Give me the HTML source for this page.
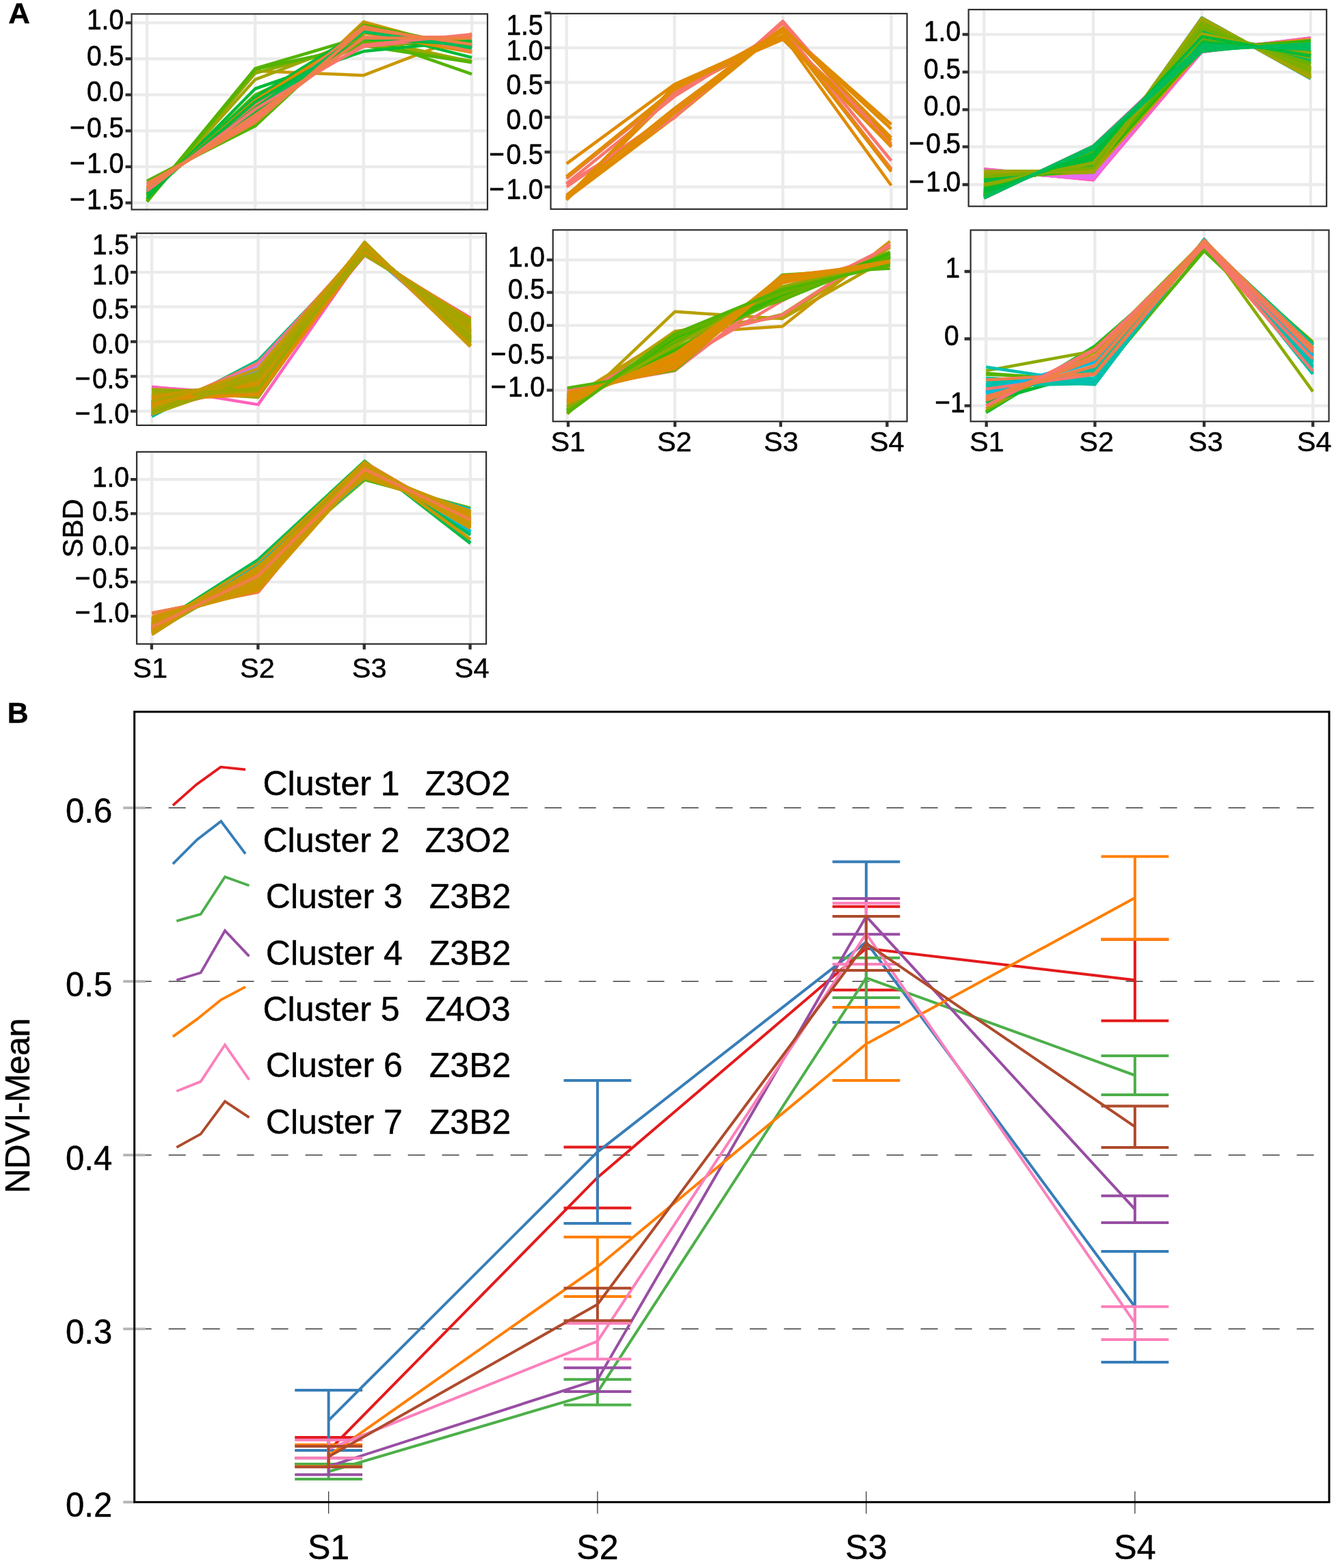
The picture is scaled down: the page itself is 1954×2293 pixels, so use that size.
<!DOCTYPE html>
<html lang="en"><head><meta charset="utf-8"><title>Figure: SBD clusters and NDVI-Mean</title>
<style>
html,body{margin:0;padding:0;background:#fff;}
body{width:1954px;height:2293px;overflow:hidden;}
svg{display:block;font-family:"Liberation Sans", Arial, Helvetica, sans-serif;fill:#000;}
text{stroke:#000;stroke-width:0.45px;stroke-linejoin:round;}
text.ta{stroke-width:0.65px;}
</style></head><body>
<svg width="1954" height="2293" viewBox="0 0 1954 2293">
<rect width="1954" height="2293" fill="#fff"/>
<g id="pa1">
<clipPath id="cp1"><rect x="192.5" y="20.4" width="520.5" height="286.1"/></clipPath>
<g clip-path="url(#cp1)">
<path d="M192.5 33.4H713M192.5 86H713M192.5 138.6H713M192.5 191.3H713M192.5 243.9H713M192.5 296.6H713M215 20.4V306.5M373.2 20.4V306.5M531.7 20.4V306.5M690.1 20.4V306.5" stroke="#ebebeb" stroke-width="4.3" fill="none"/>
<polyline points="215,291.13 373.2,103.85 531.7,110.17 690.1,49.25" stroke="#C99800" stroke-width="4.5" fill="none" stroke-linejoin="round"/>
<polyline points="215,265.37 373.2,181.58 531.7,32.04 690.1,75.42" stroke="#C99800" stroke-width="4.5" fill="none" stroke-linejoin="round"/>
<polyline points="215,292.12 373.2,116.28 531.7,55.84 690.1,90.16" stroke="#A3A500" stroke-width="4.5" fill="none" stroke-linejoin="round"/>
<polyline points="215,273.78 373.2,170.19 531.7,48.7 690.1,61.73" stroke="#A3A500" stroke-width="4.5" fill="none" stroke-linejoin="round"/>
<polyline points="215,281.5 373.2,154.39 531.7,58.88 690.1,59.62" stroke="#A3A500" stroke-width="4.5" fill="none" stroke-linejoin="round"/>
<polyline points="215,294.31 373.2,107.01 531.7,63.97 690.1,89.11" stroke="#8CAB00" stroke-width="4.5" fill="none" stroke-linejoin="round"/>
<polyline points="215,292.32 373.2,100.27 531.7,53.43 690.1,108.38" stroke="#53B400" stroke-width="4.5" fill="none" stroke-linejoin="round"/>
<polyline points="215,295.06 373.2,101.22 531.7,66.9 690.1,91.22" stroke="#53B400" stroke-width="4.5" fill="none" stroke-linejoin="round"/>
<polyline points="215,287.41 373.2,138.92 531.7,63.19 690.1,64.89" stroke="#53B400" stroke-width="4.5" fill="none" stroke-linejoin="round"/>
<polyline points="215,264.65 373.2,184.3 531.7,36.34 690.1,69.1" stroke="#53B400" stroke-width="4.5" fill="none" stroke-linejoin="round"/>
<polyline points="215,285.68 373.2,143.87 531.7,62.07 690.1,62.78" stroke="#53B400" stroke-width="4.5" fill="none" stroke-linejoin="round"/>
<polyline points="215,289.96 373.2,129.75 531.7,75.06 690.1,59.62" stroke="#00BA38" stroke-width="4.5" fill="none" stroke-linejoin="round"/>
<polyline points="215,284.39 373.2,142.29 531.7,43.56 690.1,84.16" stroke="#00BA38" stroke-width="4.5" fill="none" stroke-linejoin="round"/>
<polyline points="215,282.45 373.2,151.45 531.7,68.25 690.1,52.25" stroke="#F8766D" stroke-width="4.5" fill="none" stroke-linejoin="round"/>
<polyline points="215,269.5 373.2,176.51 531.7,39.29 690.1,69.1" stroke="#EF7F49" stroke-width="4.5" fill="none" stroke-linejoin="round"/>
<polyline points="215,279.12 373.2,158.4 531.7,46.73 690.1,70.15" stroke="#00BA38" stroke-width="4.5" fill="none" stroke-linejoin="round"/>
<polyline points="215,283.59 373.2,146.92 531.7,47.42 690.1,76.47" stroke="#E08B00" stroke-width="4.5" fill="none" stroke-linejoin="round"/>
<polyline points="215,274.97 373.2,165.24 531.7,38.77 690.1,75.42" stroke="#EF7F49" stroke-width="4.5" fill="none" stroke-linejoin="round"/>
<polyline points="215,275.63 373.2,165.98 531.7,45.8 690.1,67" stroke="#00BA38" stroke-width="4.5" fill="none" stroke-linejoin="round"/>
<polyline points="215,272.51 373.2,172.93 531.7,54.6 690.1,54.36" stroke="#F8766D" stroke-width="4.5" fill="none" stroke-linejoin="round"/>
<polyline points="215,283.6 373.2,149.13 531.7,56.78 690.1,64.89" stroke="#00BA38" stroke-width="4.5" fill="none" stroke-linejoin="round"/>
<polyline points="215,278.1 373.2,160.71 531.7,46.49 690.1,69.1" stroke="#00BC59" stroke-width="4.5" fill="none" stroke-linejoin="round"/>
<polyline points="215,268.47 373.2,179.04 531.7,42.01 690.1,64.89" stroke="#EF7F49" stroke-width="4.5" fill="none" stroke-linejoin="round"/>
<polyline points="215,278.89 373.2,159.66 531.7,65.7 690.1,50.15" stroke="#F8766D" stroke-width="4.5" fill="none" stroke-linejoin="round"/>
<polyline points="215,275.07 373.2,168.08 531.7,55.83 690.1,55.41" stroke="#EF7F49" stroke-width="4.5" fill="none" stroke-linejoin="round"/>
</g>
<rect x="192.5" y="20.4" width="520.5" height="286.1" fill="none" stroke="#2e2e2e" stroke-width="2.2"/>
<path d="M183.5 33.4H192.5M183.5 86H192.5M183.5 138.6H192.5M183.5 191.3H192.5M183.5 243.9H192.5M183.5 296.6H192.5" stroke="#2e2e2e" stroke-width="4.3" fill="none"/>
<text class="ta" transform="translate(181,42.5) scale(0.912,1)" text-anchor="end" font-size="42.6">1.0</text>
<text class="ta" transform="translate(181,95.8) scale(0.912,1)" text-anchor="end" font-size="42.6">0.5</text>
<text class="ta" transform="translate(181,147.9) scale(0.912,1)" text-anchor="end" font-size="42.6">0.0</text>
<text class="ta" transform="translate(181,200.6) scale(0.912,1)" text-anchor="end" font-size="42.6">−<tspan dx="2.6">0.5</tspan></text>
<text class="ta" transform="translate(181,253.2) scale(0.912,1)" text-anchor="end" font-size="42.6">−<tspan dx="2.6">1.0</tspan></text>
<text class="ta" transform="translate(181,305.7) scale(0.912,1)" text-anchor="end" font-size="42.6">−<tspan dx="2.6">1.5</tspan></text>
</g>
<g id="pa2">
<clipPath id="cp2"><rect x="805.5" y="19.9" width="521.1" height="285.9"/></clipPath>
<g clip-path="url(#cp2)">
<path d="M805.5 69.8H1326.6M805.5 120.5H1326.6M805.5 171.5H1326.6M805.5 222.4H1326.6M805.5 273.4H1326.6M828.6 19.9V305.8M986.5 19.9V305.8M1145 19.9V305.8M1303.5 19.9V305.8" stroke="#ebebeb" stroke-width="4.3" fill="none"/>
<polyline points="828.6,239.37 986.5,123.4 1145,51.99 1303.5,271.24" stroke="#E08B00" stroke-width="4.5" fill="none" stroke-linejoin="round"/>
<polyline points="828.6,292.25 986.5,125.64 1145,57.69 1303.5,210.41" stroke="#E08B00" stroke-width="4.5" fill="none" stroke-linejoin="round"/>
<polyline points="828.6,292.25 986.5,135.84 1145,52.54 1303.5,205.37" stroke="#E08B00" stroke-width="4.5" fill="none" stroke-linejoin="round"/>
<polyline points="828.6,290.72 986.5,171.5 1145,41.78 1303.5,181.99" stroke="#E08B00" stroke-width="4.5" fill="none" stroke-linejoin="round"/>
<polyline points="828.6,269.53 986.5,172.01 1145,30.89 1303.5,213.57" stroke="#F8766D" stroke-width="4.5" fill="none" stroke-linejoin="round"/>
<polyline points="828.6,258.22 986.5,135.94 1145,43.31 1303.5,248.53" stroke="#F8766D" stroke-width="4.5" fill="none" stroke-linejoin="round"/>
<polyline points="828.6,268.31 986.5,140.93 1145,41.81 1303.5,234.95" stroke="#F8766D" stroke-width="4.5" fill="none" stroke-linejoin="round"/>
<polyline points="828.6,273.4 986.5,163.35 1145,34.33 1303.5,214.92" stroke="#F8766D" stroke-width="4.5" fill="none" stroke-linejoin="round"/>
<polyline points="828.6,261.17 986.5,132.78 1145,45.25 1303.5,246.8" stroke="#EF7F49" stroke-width="4.5" fill="none" stroke-linejoin="round"/>
<polyline points="828.6,258.22 986.5,130.23 1145,46.56 1303.5,250.99" stroke="#E08B00" stroke-width="4.5" fill="none" stroke-linejoin="round"/>
<polyline points="828.6,285.42 986.5,158.46 1145,40.71 1303.5,201.41" stroke="#E08B00" stroke-width="4.5" fill="none" stroke-linejoin="round"/>
<polyline points="828.6,290.01 986.5,165.39 1145,41.98 1303.5,188.63" stroke="#E08B00" stroke-width="4.5" fill="none" stroke-linejoin="round"/>
<polyline points="828.6,288.69 986.5,128.7 1145,54.24 1303.5,214.37" stroke="#E08B00" stroke-width="4.5" fill="none" stroke-linejoin="round"/>
</g>
<rect x="805.5" y="19.9" width="521.1" height="285.9" fill="none" stroke="#2e2e2e" stroke-width="2.2"/>
<path d="M796.5 18.8H805.5M796.5 69.8H805.5M796.5 120.5H805.5M796.5 171.5H805.5M796.5 222.4H805.5M796.5 273.4H805.5" stroke="#2e2e2e" stroke-width="4.3" fill="none"/>
<text class="ta" transform="translate(794.4,50.5) scale(0.912,1)" text-anchor="end" font-size="42.6">1.5</text>
<text class="ta" transform="translate(794.4,87.8) scale(0.912,1)" text-anchor="end" font-size="42.6">1.0</text>
<text class="ta" transform="translate(794.4,137.7) scale(0.912,1)" text-anchor="end" font-size="42.6">0.5</text>
<text class="ta" transform="translate(794.4,189.1) scale(0.912,1)" text-anchor="end" font-size="42.6">0.0</text>
<text class="ta" transform="translate(794.4,239.6) scale(0.912,1)" text-anchor="end" font-size="42.6">−<tspan dx="2.6">0.5</tspan></text>
<text class="ta" transform="translate(794.4,290.5) scale(0.912,1)" text-anchor="end" font-size="42.6">−<tspan dx="2.6">1.0</tspan></text>
</g>
<g id="pa3">
<clipPath id="cp3"><rect x="1416.6" y="14" width="523.6" height="287.7"/></clipPath>
<g clip-path="url(#cp3)">
<path d="M1416.6 50.3H1940.2M1416.6 105.3H1940.2M1416.6 160.4H1940.2M1416.6 214.7H1940.2M1416.6 270H1940.2M1439.3 14V301.7M1599 14V301.7M1757.9 14V301.7M1916.9 14V301.7" stroke="#ebebeb" stroke-width="4.3" fill="none"/>
<polyline points="1439.3,248.04 1599,262.33 1757.9,75.51 1916.9,55.72" stroke="#FF62BC" stroke-width="4.8" fill="none" stroke-linejoin="round"/>
<polyline points="1439.3,248.79 1599,261.98 1757.9,59.92 1916.9,70.91" stroke="#FF62BC" stroke-width="4.8" fill="none" stroke-linejoin="round"/>
<polyline points="1439.3,247.58 1599,261.87 1757.9,49.59 1916.9,82.56" stroke="#FF62BC" stroke-width="4.8" fill="none" stroke-linejoin="round"/>
<polyline points="1439.3,249.92 1599,260.91 1757.9,70.88 1916.9,59.89" stroke="#FF62BC" stroke-width="4.8" fill="none" stroke-linejoin="round"/>
<polyline points="1439.3,260.73 1599,249.74 1757.9,75.45 1916.9,55.67" stroke="#FF62BC" stroke-width="4.8" fill="none" stroke-linejoin="round"/>
<polyline points="1439.3,271.11 1599,238.14 1757.9,75.51 1916.9,56.83" stroke="#FF62BC" stroke-width="4.8" fill="none" stroke-linejoin="round"/>
<polyline points="1439.3,250.81 1599,259.6 1757.9,54.6 1916.9,76.58" stroke="#FF62BC" stroke-width="4.8" fill="none" stroke-linejoin="round"/>
<polyline points="1439.3,249.43 1599,261.52 1757.9,66.42 1916.9,64.22" stroke="#FF62BC" stroke-width="4.8" fill="none" stroke-linejoin="round"/>
<polyline points="1439.3,255.58 1599,255.58 1757.9,65.22 1916.9,65.22" stroke="#FF62BC" stroke-width="4.8" fill="none" stroke-linejoin="round"/>
<polyline points="1439.3,257.99 1599,252.49 1757.9,54.57 1916.9,76.55" stroke="#FF62BC" stroke-width="4.8" fill="none" stroke-linejoin="round"/>
<polyline points="1439.3,253.5 1599,255.7 1757.9,46.97 1916.9,85.44" stroke="#FF62BC" stroke-width="4.8" fill="none" stroke-linejoin="round"/>
<polyline points="1439.3,259.84 1599,251.05 1757.9,70.85 1916.9,59.86" stroke="#FF62BC" stroke-width="4.8" fill="none" stroke-linejoin="round"/>
<polyline points="1439.3,247.41 1599,262.8 1757.9,54.71 1916.9,76.69" stroke="#FF62BC" stroke-width="4.8" fill="none" stroke-linejoin="round"/>
<polyline points="1439.3,247.73 1599,263.11 1757.9,65.38 1916.9,65.38" stroke="#FF62BC" stroke-width="4.8" fill="none" stroke-linejoin="round"/>
<polyline points="1439.3,266.17 1599,244.19 1757.9,71.12 1916.9,60.13" stroke="#FF62BC" stroke-width="4.8" fill="none" stroke-linejoin="round"/>
<polyline points="1439.3,289.55 1599,213.72 1757.9,63.67 1916.9,74.66" stroke="#FF62BC" stroke-width="4.8" fill="none" stroke-linejoin="round"/>
<polyline points="1439.3,250.36 1599,250.36 1757.9,26.48 1916.9,114.4" stroke="#FF62BC" stroke-width="4.8" fill="none" stroke-linejoin="round"/>
<polyline points="1439.3,274.98 1599,231.02 1757.9,45.82 1916.9,89.78" stroke="#FF62BC" stroke-width="4.8" fill="none" stroke-linejoin="round"/>
<polyline points="1439.3,282.86 1599,222.41 1757.9,54.43 1916.9,81.9" stroke="#FF62BC" stroke-width="4.8" fill="none" stroke-linejoin="round"/>
<polyline points="1439.3,263.34 1599,241.36 1757.9,35.48 1916.9,101.42" stroke="#FF62BC" stroke-width="4.8" fill="none" stroke-linejoin="round"/>
<polyline points="1439.3,250.39 1599,260.28 1757.9,57.22 1916.9,73.71" stroke="#E76BF3" stroke-width="4.5" fill="none" stroke-linejoin="round"/>
<polyline points="1439.3,251.53 1599,258.13 1757.9,49.48 1916.9,82.45" stroke="#E76BF3" stroke-width="4.5" fill="none" stroke-linejoin="round"/>
<polyline points="1439.3,255.5 1599,255.5 1757.9,59.81 1916.9,70.8" stroke="#E76BF3" stroke-width="4.5" fill="none" stroke-linejoin="round"/>
<polyline points="1439.3,251.69 1599,259.38 1757.9,65.26 1916.9,65.26" stroke="#E76BF3" stroke-width="4.5" fill="none" stroke-linejoin="round"/>
<polyline points="1439.3,253.35 1599,257.74 1757.9,68 1916.9,62.51" stroke="#E76BF3" stroke-width="4.5" fill="none" stroke-linejoin="round"/>
<polyline points="1439.3,249.98 1599,260.97 1757.9,62.58 1916.9,68.07" stroke="#E76BF3" stroke-width="4.5" fill="none" stroke-linejoin="round"/>
<polyline points="1439.3,281.66 1599,224.51 1757.9,56.73 1916.9,78.71" stroke="#F8766D" stroke-width="4.5" fill="none" stroke-linejoin="round"/>
<polyline points="1439.3,278.9 1599,227.25 1757.9,51.24 1916.9,84.21" stroke="#E76BF3" stroke-width="4.5" fill="none" stroke-linejoin="round"/>
<polyline points="1439.3,260.91 1599,249.92 1757.9,59.89 1916.9,70.88" stroke="#A58AFF" stroke-width="4.5" fill="none" stroke-linejoin="round"/>
<polyline points="1439.3,250.25 1599,250.25 1757.9,26.15 1916.9,114.95" stroke="#00B0F6" stroke-width="4.5" fill="none" stroke-linejoin="round"/>
<polyline points="1439.3,251.92 1599,248.62 1757.9,26.24 1916.9,114.82" stroke="#00B0F6" stroke-width="4.5" fill="none" stroke-linejoin="round"/>
<polyline points="1439.3,253.9 1599,257.2 1757.9,62.5 1916.9,68" stroke="#E76BF3" stroke-width="4.5" fill="none" stroke-linejoin="round"/>
<polyline points="1439.3,260.77 1599,250.23 1757.9,66.77 1916.9,63.84" stroke="#7CAE00" stroke-width="4.5" fill="none" stroke-linejoin="round"/>
<polyline points="1439.3,260.56 1599,249.32 1757.9,51.38 1916.9,80.34" stroke="#97A900" stroke-width="4.5" fill="none" stroke-linejoin="round"/>
<polyline points="1439.3,259.82 1599,249.95 1757.9,50.49 1916.9,81.34" stroke="#C99800" stroke-width="4.5" fill="none" stroke-linejoin="round"/>
<polyline points="1439.3,260.46 1599,249.51 1757.9,51.86 1916.9,79.77" stroke="#7CAE00" stroke-width="4.5" fill="none" stroke-linejoin="round"/>
<polyline points="1439.3,259.33 1599,250.62 1757.9,51.32 1916.9,80.34" stroke="#E08B00" stroke-width="4.5" fill="none" stroke-linejoin="round"/>
<polyline points="1439.3,259.31 1599,251.45 1757.9,73.09 1916.9,57.75" stroke="#C99800" stroke-width="4.5" fill="none" stroke-linejoin="round"/>
<polyline points="1439.3,258.01 1599,248.14 1757.9,37.48 1916.9,97.97" stroke="#A3A500" stroke-width="4.5" fill="none" stroke-linejoin="round"/>
<polyline points="1439.3,255.22 1599,252.03 1757.9,40.1 1916.9,94.26" stroke="#8CAB00" stroke-width="4.5" fill="none" stroke-linejoin="round"/>
<polyline points="1439.3,260.56 1599,249.78 1757.9,54.42 1916.9,76.84" stroke="#8CAB00" stroke-width="4.5" fill="none" stroke-linejoin="round"/>
<polyline points="1439.3,261.77 1599,248.97 1757.9,59.43 1916.9,71.42" stroke="#7CAE00" stroke-width="4.5" fill="none" stroke-linejoin="round"/>
<polyline points="1439.3,261 1599,249.36 1757.9,54.83 1916.9,76.41" stroke="#E08B00" stroke-width="4.5" fill="none" stroke-linejoin="round"/>
<polyline points="1439.3,260.76 1599,248.86 1757.9,50.02 1916.9,81.96" stroke="#E08B00" stroke-width="4.5" fill="none" stroke-linejoin="round"/>
<polyline points="1439.3,272.69 1599,236.74 1757.9,67.54 1916.9,64.62" stroke="#2BB700" stroke-width="4.5" fill="none" stroke-linejoin="round"/>
<polyline points="1439.3,273.7 1599,234.72 1757.9,54.91 1916.9,78.27" stroke="#00BA38" stroke-width="4.5" fill="none" stroke-linejoin="round"/>
<polyline points="1439.3,264.23 1599,246.41 1757.9,69.78 1916.9,61.18" stroke="#00BA38" stroke-width="4.5" fill="none" stroke-linejoin="round"/>
<polyline points="1439.3,283.33 1599,222.86 1757.9,63.28 1916.9,72.14" stroke="#00BB45" stroke-width="4.5" fill="none" stroke-linejoin="round"/>
<polyline points="1439.3,265.04 1599,245.58 1757.9,68.16 1916.9,62.83" stroke="#00BC59" stroke-width="4.5" fill="none" stroke-linejoin="round"/>
<polyline points="1439.3,287.5 1599,216.85 1757.9,73.62 1916.9,63.63" stroke="#00BB45" stroke-width="4.5" fill="none" stroke-linejoin="round"/>
<polyline points="1439.3,270.87 1599,238.66 1757.9,59.11 1916.9,72.96" stroke="#00BD5C" stroke-width="4.5" fill="none" stroke-linejoin="round"/>
<polyline points="1439.3,264.59 1599,240.71 1757.9,37.26 1916.9,99.04" stroke="#97A900" stroke-width="4.5" fill="none" stroke-linejoin="round"/>
<polyline points="1439.3,265.82 1599,244.71 1757.9,62.86 1916.9,68.21" stroke="#2BB700" stroke-width="4.5" fill="none" stroke-linejoin="round"/>
<polyline points="1439.3,274.74 1599,234.16 1757.9,70.05 1916.9,62.64" stroke="#00BC59" stroke-width="4.5" fill="none" stroke-linejoin="round"/>
<polyline points="1439.3,262.94 1599,242.04 1757.9,35.97 1916.9,100.65" stroke="#7CAE00" stroke-width="4.5" fill="none" stroke-linejoin="round"/>
<polyline points="1439.3,268.59 1599,237.77 1757.9,41.88 1916.9,93.36" stroke="#53B400" stroke-width="4.5" fill="none" stroke-linejoin="round"/>
<polyline points="1439.3,253.75 1599,251.31 1757.9,34.52 1916.9,102.02" stroke="#A3A500" stroke-width="4.5" fill="none" stroke-linejoin="round"/>
<polyline points="1439.3,280.66 1599,226.41 1757.9,73.14 1916.9,61.4" stroke="#2BB700" stroke-width="4.5" fill="none" stroke-linejoin="round"/>
<polyline points="1439.3,281.28 1599,225.62 1757.9,62.2 1916.9,72.5" stroke="#00BB45" stroke-width="4.5" fill="none" stroke-linejoin="round"/>
<polyline points="1439.3,267.15 1599,242.53 1757.9,54.68 1916.9,77.23" stroke="#00BB45" stroke-width="4.5" fill="none" stroke-linejoin="round"/>
<polyline points="1439.3,283.9 1599,222.05 1757.9,63.38 1916.9,72.27" stroke="#00BD5C" stroke-width="4.5" fill="none" stroke-linejoin="round"/>
<polyline points="1439.3,261.79 1599,248.52 1757.9,54.87 1916.9,76.42" stroke="#53B400" stroke-width="4.5" fill="none" stroke-linejoin="round"/>
<polyline points="1439.3,260.86 1599,244.41 1757.9,35.99 1916.9,100.34" stroke="#97A900" stroke-width="4.5" fill="none" stroke-linejoin="round"/>
<polyline points="1439.3,281.3 1599,225.71 1757.9,64.83 1916.9,69.76" stroke="#2BB700" stroke-width="4.5" fill="none" stroke-linejoin="round"/>
<polyline points="1439.3,262.31 1599,248.03 1757.9,55.46 1916.9,75.8" stroke="#00BA38" stroke-width="4.5" fill="none" stroke-linejoin="round"/>
<polyline points="1439.3,267.9 1599,239.85 1757.9,45.81 1916.9,88.04" stroke="#00BC59" stroke-width="4.5" fill="none" stroke-linejoin="round"/>
<polyline points="1439.3,258.6 1599,247.05 1757.9,36.37 1916.9,99.58" stroke="#7CAE00" stroke-width="4.5" fill="none" stroke-linejoin="round"/>
<polyline points="1439.3,277.06 1599,231.16 1757.9,72.06 1916.9,61.33" stroke="#00BC59" stroke-width="4.5" fill="none" stroke-linejoin="round"/>
<polyline points="1439.3,284.38 1599,221.5 1757.9,68.73 1916.9,66.98" stroke="#00BD5C" stroke-width="4.5" fill="none" stroke-linejoin="round"/>
<polyline points="1439.3,279.68 1599,227.74 1757.9,61.82 1916.9,72.35" stroke="#00BC59" stroke-width="4.5" fill="none" stroke-linejoin="round"/>
<polyline points="1439.3,275.47 1599,232.98 1757.9,58.88 1916.9,74.26" stroke="#A3A500" stroke-width="4.5" fill="none" stroke-linejoin="round"/>
<polyline points="1439.3,278.1 1599,229.85 1757.9,71.5 1916.9,62.15" stroke="#53B400" stroke-width="4.5" fill="none" stroke-linejoin="round"/>
<polyline points="1439.3,272.03 1599,236.52 1757.9,53.21 1916.9,79.84" stroke="#6FB000" stroke-width="4.5" fill="none" stroke-linejoin="round"/>
<polyline points="1439.3,271.08 1599,237.34 1757.9,51.41 1916.9,81.76" stroke="#00BA38" stroke-width="4.5" fill="none" stroke-linejoin="round"/>
<polyline points="1439.3,261.22 1599,247.5 1757.9,46.13 1916.9,86.75" stroke="#00BB45" stroke-width="4.5" fill="none" stroke-linejoin="round"/>
<polyline points="1439.3,276.62 1599,230.8 1757.9,53.74 1916.9,80.44" stroke="#2BB700" stroke-width="4.5" fill="none" stroke-linejoin="round"/>
<polyline points="1439.3,286.91 1599,217.88 1757.9,69.4 1916.9,67.41" stroke="#2BB700" stroke-width="4.5" fill="none" stroke-linejoin="round"/>
<polyline points="1439.3,284.62 1599,220.73 1757.9,59.94 1916.9,76.31" stroke="#00BA38" stroke-width="4.5" fill="none" stroke-linejoin="round"/>
<polyline points="1439.3,265.83 1599,244.74 1757.9,65.9 1916.9,65.14" stroke="#00BC59" stroke-width="4.5" fill="none" stroke-linejoin="round"/>
<polyline points="1439.3,285.53 1599,219.58 1757.9,61.59 1916.9,74.9" stroke="#2BB700" stroke-width="4.5" fill="none" stroke-linejoin="round"/>
<polyline points="1439.3,277.6 1599,230.47 1757.9,71.87 1916.9,61.66" stroke="#2BB700" stroke-width="4.5" fill="none" stroke-linejoin="round"/>
<polyline points="1439.3,287.12 1599,217.55 1757.9,70.1 1916.9,66.83" stroke="#00BA38" stroke-width="4.5" fill="none" stroke-linejoin="round"/>
<polyline points="1439.3,280.61 1599,226.67 1757.9,65.94 1916.9,68.38" stroke="#00BD5C" stroke-width="4.5" fill="none" stroke-linejoin="round"/>
<polyline points="1439.3,271.35 1599,234.89 1757.9,43.36 1916.9,92.01" stroke="#00BB45" stroke-width="4.5" fill="none" stroke-linejoin="round"/>
<polyline points="1439.3,271.84 1599,235.87 1757.9,48.86 1916.9,85.04" stroke="#00BC59" stroke-width="4.5" fill="none" stroke-linejoin="round"/>
<polyline points="1439.3,271.66 1599,237.94 1757.9,69.02 1916.9,62.97" stroke="#00BC59" stroke-width="4.5" fill="none" stroke-linejoin="round"/>
<polyline points="1439.3,276.84 1599,231 1757.9,56.9 1916.9,76.86" stroke="#00BA38" stroke-width="4.5" fill="none" stroke-linejoin="round"/>
<polyline points="1439.3,263.2 1599,244.66 1757.9,43.73 1916.9,90.01" stroke="#00BD5C" stroke-width="4.5" fill="none" stroke-linejoin="round"/>
<polyline points="1439.3,272.48 1599,236.12 1757.9,54.17 1916.9,78.83" stroke="#6FB000" stroke-width="4.5" fill="none" stroke-linejoin="round"/>
<polyline points="1439.3,283.03 1599,223.05 1757.9,60.42 1916.9,75.11" stroke="#00BA38" stroke-width="4.5" fill="none" stroke-linejoin="round"/>
<polyline points="1439.3,278.33 1599,229.3 1757.9,59.02 1916.9,74.95" stroke="#00BC59" stroke-width="4.5" fill="none" stroke-linejoin="round"/>
<polyline points="1439.3,265.1 1599,245.36 1757.9,59.75 1916.9,71.39" stroke="#00BC59" stroke-width="4.5" fill="none" stroke-linejoin="round"/>
<polyline points="1439.3,285.67 1599,219.12 1757.9,59.25 1916.9,77.56" stroke="#00BC59" stroke-width="4.5" fill="none" stroke-linejoin="round"/>
<polyline points="1439.3,287.11 1599,217.54 1757.9,65.94 1916.9,71.01" stroke="#00BC59" stroke-width="4.5" fill="none" stroke-linejoin="round"/>
<polyline points="1439.3,263.45 1599,246.41 1757.9,52.75 1916.9,78.99" stroke="#00BB45" stroke-width="4.5" fill="none" stroke-linejoin="round"/>
<polyline points="1439.3,261.33 1599,247.12 1757.9,45.12 1916.9,88.03" stroke="#00BA38" stroke-width="4.5" fill="none" stroke-linejoin="round"/>
<polyline points="1439.3,270.32 1599,239.56 1757.9,63.53 1916.9,68.19" stroke="#00BC59" stroke-width="4.5" fill="none" stroke-linejoin="round"/>
<polyline points="1439.3,272.59 1599,234.87 1757.9,48.65 1916.9,85.48" stroke="#00BA38" stroke-width="4.5" fill="none" stroke-linejoin="round"/>
<polyline points="1439.3,272.1 1599,234.89 1757.9,46.4 1916.9,88.2" stroke="#00BC59" stroke-width="4.5" fill="none" stroke-linejoin="round"/>
<polyline points="1439.3,266.1 1599,244.28 1757.9,60.37 1916.9,70.85" stroke="#00BC59" stroke-width="4.5" fill="none" stroke-linejoin="round"/>
<polyline points="1439.3,281.52 1599,225.09 1757.9,75.18 1916.9,59.81" stroke="#00BC59" stroke-width="4.5" fill="none" stroke-linejoin="round"/>
<polyline points="1439.3,273.47 1599,234.78 1757.9,53.51 1916.9,79.83" stroke="#00BA38" stroke-width="4.5" fill="none" stroke-linejoin="round"/>
<polyline points="1439.3,271.15 1599,237.45 1757.9,52.45 1916.9,80.54" stroke="#97A900" stroke-width="4.5" fill="none" stroke-linejoin="round"/>
<polyline points="1439.3,285.33 1599,219.82 1757.9,60.99 1916.9,75.47" stroke="#00BB45" stroke-width="4.5" fill="none" stroke-linejoin="round"/>
<polyline points="1439.3,275.09 1599,233.74 1757.9,69.96 1916.9,62.82" stroke="#53B400" stroke-width="4.5" fill="none" stroke-linejoin="round"/>
<polyline points="1439.3,273.35 1599,234.53 1757.9,51.34 1916.9,82.38" stroke="#00BB45" stroke-width="4.5" fill="none" stroke-linejoin="round"/>
<polyline points="1439.3,282.68 1599,222.93 1757.9,55.88 1916.9,80.11" stroke="#2BB700" stroke-width="4.5" fill="none" stroke-linejoin="round"/>
<polyline points="1439.3,270.45 1599,238.03 1757.9,50.98 1916.9,82.14" stroke="#00BB45" stroke-width="4.5" fill="none" stroke-linejoin="round"/>
<polyline points="1439.3,266.83 1599,243.58 1757.9,67.96 1916.9,63.22" stroke="#8CAB00" stroke-width="4.5" fill="none" stroke-linejoin="round"/>
<polyline points="1439.3,273.43 1599,235.75 1757.9,70.44 1916.9,61.98" stroke="#00BA38" stroke-width="4.5" fill="none" stroke-linejoin="round"/>
<polyline points="1439.3,271.03 1599,238.71 1757.9,68.44 1916.9,63.42" stroke="#7CAE00" stroke-width="4.5" fill="none" stroke-linejoin="round"/>
<polyline points="1439.3,286.16 1599,218.85 1757.9,64.1 1916.9,72.5" stroke="#00BA38" stroke-width="4.5" fill="none" stroke-linejoin="round"/>
<polyline points="1439.3,264.88 1599,245.66 1757.9,70.51 1916.9,60.56" stroke="#2BB700" stroke-width="4.5" fill="none" stroke-linejoin="round"/>
<polyline points="1439.3,278.43 1599,229.49 1757.9,63.5 1916.9,70.18" stroke="#2BB700" stroke-width="4.5" fill="none" stroke-linejoin="round"/>
<polyline points="1439.3,267.15 1599,239.63 1757.9,42.23 1916.9,92.6" stroke="#6FB000" stroke-width="4.5" fill="none" stroke-linejoin="round"/>
<polyline points="1439.3,266.96 1599,243.37 1757.9,61.4 1916.9,69.88" stroke="#6FB000" stroke-width="4.5" fill="none" stroke-linejoin="round"/>
<polyline points="1439.3,284.19 1599,221.64 1757.9,72.31 1916.9,63.45" stroke="#53B400" stroke-width="4.5" fill="none" stroke-linejoin="round"/>
<polyline points="1439.3,277.18 1599,231.05 1757.9,62.17 1916.9,71.2" stroke="#00BA38" stroke-width="4.5" fill="none" stroke-linejoin="round"/>
<polyline points="1439.3,265.34 1599,243.88 1757.9,50.35 1916.9,82.04" stroke="#00BB45" stroke-width="4.5" fill="none" stroke-linejoin="round"/>
<polyline points="1439.3,271.88 1599,237.71 1757.9,68.2 1916.9,63.81" stroke="#53B400" stroke-width="4.5" fill="none" stroke-linejoin="round"/>
<polyline points="1439.3,269.76 1599,238.52 1757.9,49.36 1916.9,83.96" stroke="#A3A500" stroke-width="4.5" fill="none" stroke-linejoin="round"/>
<polyline points="1439.3,270.44 1599,238.75 1757.9,55.28 1916.9,77.13" stroke="#8CAB00" stroke-width="4.5" fill="none" stroke-linejoin="round"/>
<polyline points="1439.3,251.45 1599,249.25 1757.9,26.49 1916.9,114.41" stroke="#8CAB00" stroke-width="4.5" fill="none" stroke-linejoin="round"/>
<polyline points="1439.3,253.22 1599,247.72 1757.9,26.92 1916.9,113.74" stroke="#A3A500" stroke-width="4.5" fill="none" stroke-linejoin="round"/>
<polyline points="1439.3,250.42 1599,250.42 1757.9,26.69 1916.9,114.06" stroke="#97A900" stroke-width="4.5" fill="none" stroke-linejoin="round"/>
<polyline points="1439.3,256.82 1599,248.03 1757.9,34.31 1916.9,102.44" stroke="#8CAB00" stroke-width="4.5" fill="none" stroke-linejoin="round"/>
<polyline points="1439.3,253.7 1599,250.4 1757.9,32.48 1916.9,105.02" stroke="#A3A500" stroke-width="4.5" fill="none" stroke-linejoin="round"/>
<polyline points="1439.3,257.25 1599,246.26 1757.9,31.68 1916.9,106.41" stroke="#7CAE00" stroke-width="4.5" fill="none" stroke-linejoin="round"/>
<polyline points="1439.3,251.61 1599,251.61 1757.9,30.73 1916.9,107.66" stroke="#8CAB00" stroke-width="4.5" fill="none" stroke-linejoin="round"/>
<polyline points="1439.3,254.64 1599,248.04 1757.9,29.89 1916.9,109.02" stroke="#A3A500" stroke-width="4.5" fill="none" stroke-linejoin="round"/>
<polyline points="1439.3,252.22 1599,250.03 1757.9,29.01 1916.9,110.34" stroke="#97A900" stroke-width="4.5" fill="none" stroke-linejoin="round"/>
<polyline points="1439.3,253.06 1599,248.67 1757.9,28.17 1916.9,111.7" stroke="#8CAB00" stroke-width="4.5" fill="none" stroke-linejoin="round"/>
<polyline points="1439.3,250.69 1599,250.69 1757.9,27.53 1916.9,112.7" stroke="#A3A500" stroke-width="4.5" fill="none" stroke-linejoin="round"/>
<polyline points="1439.3,258.75 1599,245.56 1757.9,33.48 1916.9,103.82" stroke="#7CAE00" stroke-width="4.5" fill="none" stroke-linejoin="round"/>
<polyline points="1439.3,289.17 1599,214.44 1757.9,65.7 1916.9,72.29" stroke="#00BC59" stroke-width="4.5" fill="none" stroke-linejoin="round"/>
<polyline points="1439.3,288.32 1599,215.79 1757.9,68.74 1916.9,68.74" stroke="#00BC59" stroke-width="4.5" fill="none" stroke-linejoin="round"/>
<polyline points="1439.3,286.49 1599,218.36 1757.9,72.77 1916.9,63.98" stroke="#00BC59" stroke-width="4.5" fill="none" stroke-linejoin="round"/>
<polyline points="1439.3,280.5 1599,225.55 1757.9,53.49 1916.9,82.06" stroke="#00BA38" stroke-width="4.5" fill="none" stroke-linejoin="round"/>
<polyline points="1439.3,289.63 1599,213.8 1757.9,67.98 1916.9,70.18" stroke="#00BC59" stroke-width="4.5" fill="none" stroke-linejoin="round"/>
</g>
<rect x="1416.6" y="14" width="523.6" height="287.7" fill="none" stroke="#2e2e2e" stroke-width="2.2"/>
<path d="M1407.6 50.3H1416.6M1407.6 105.3H1416.6M1407.6 160.4H1416.6M1407.6 214.7H1416.6M1407.6 270H1416.6" stroke="#2e2e2e" stroke-width="4.3" fill="none"/>
<text class="ta" transform="translate(1405,59.5) scale(0.912,1)" text-anchor="end" font-size="42.6">1.0</text>
<text class="ta" transform="translate(1405,115) scale(0.912,1)" text-anchor="end" font-size="42.6">0.5</text>
<text class="ta" transform="translate(1405,169.4) scale(0.912,1)" text-anchor="end" font-size="42.6">0.0</text>
<text class="ta" transform="translate(1405,223.7) scale(0.912,1)" text-anchor="end" font-size="42.6">−<tspan dx="2.6">0</tspan><tspan dx="1.4">.</tspan><tspan dx="-5.1">5</tspan></text>
<text class="ta" transform="translate(1405,280.4) scale(0.912,1)" text-anchor="end" font-size="42.6">−<tspan dx="2.6">1</tspan><tspan dx="1.4">.</tspan><tspan dx="-5.1">0</tspan></text>
</g>
<g id="pa4">
<clipPath id="cp4"><rect x="200" y="341.1" width="511.1" height="280.8"/></clipPath>
<g clip-path="url(#cp4)">
<path d="M200 346.7H711.1M200 398.1H711.1M200 448.7H711.1M200 499.6H711.1M200 550.4H711.1M200 601.3H711.1M222 341.1V621.9M377.6 341.1V621.9M533.3 341.1V621.9M688 341.1V621.9" stroke="#ebebeb" stroke-width="4.3" fill="none"/>
<polyline points="222,566.21 377.6,591.64 533.3,367.67 688,472.88" stroke="#FF62BC" stroke-width="4.5" fill="none" stroke-linejoin="round"/>
<polyline points="222,565.91 377.6,580.45 533.3,357.95 688,494.09" stroke="#FF62BC" stroke-width="4.6" fill="none" stroke-linejoin="round"/>
<polyline points="222,566.72 377.6,578.93 533.3,357.43 688,495.32" stroke="#FF62BC" stroke-width="4.6" fill="none" stroke-linejoin="round"/>
<polyline points="222,567.74 377.6,579.94 533.3,358.62 688,492.09" stroke="#FF62BC" stroke-width="4.6" fill="none" stroke-linejoin="round"/>
<polyline points="222,566.21 377.6,577.91 533.3,356.58 688,497.7" stroke="#FF62BC" stroke-width="4.6" fill="none" stroke-linejoin="round"/>
<polyline points="222,600.54 377.6,559.96 533.3,373.19 688,464.72" stroke="#FF62BC" stroke-width="4.6" fill="none" stroke-linejoin="round"/>
<polyline points="222,592.77 377.6,568.64 533.3,371.46 688,465.53" stroke="#FF62BC" stroke-width="4.6" fill="none" stroke-linejoin="round"/>
<polyline points="222,570.79 377.6,580.96 533.3,361.25 688,485.4" stroke="#8CAB00" stroke-width="4.5" fill="none" stroke-linejoin="round"/>
<polyline points="222,608.93 377.6,527.06 533.3,364.25 688,498.17" stroke="#00BF7D" stroke-width="4.5" fill="none" stroke-linejoin="round"/>
<polyline points="222,608.42 377.6,528.58 533.3,364.17 688,497.23" stroke="#00BF7D" stroke-width="4.5" fill="none" stroke-linejoin="round"/>
<polyline points="222,607.4 377.6,530.11 533.3,363.69 688,497.2" stroke="#00B0F6" stroke-width="4.5" fill="none" stroke-linejoin="round"/>
<polyline points="222,605.88 377.6,530.62 533.3,362.59 688,499.32" stroke="#F8766D" stroke-width="4.5" fill="none" stroke-linejoin="round"/>
<polyline points="222,604.35 377.6,532.65 533.3,361.89 688,499.5" stroke="#F8766D" stroke-width="4.5" fill="none" stroke-linejoin="round"/>
<polyline points="222,601.3 377.6,532.14 533.3,359.62 688,505.33" stroke="#F8766D" stroke-width="4.5" fill="none" stroke-linejoin="round"/>
<polyline points="222,605.37 377.6,534.18 533.3,363.1 688,495.75" stroke="#FF67A4" stroke-width="4.5" fill="none" stroke-linejoin="round"/>
<polyline points="222,601.3 377.6,536.21 533.3,360.51 688,500.37" stroke="#A58AFF" stroke-width="4.5" fill="none" stroke-linejoin="round"/>
<polyline points="222,599.27 377.6,537.74 533.3,359.47 688,501.92" stroke="#A58AFF" stroke-width="4.5" fill="none" stroke-linejoin="round"/>
<polyline points="222,596.22 377.6,539.26 533.3,357.86 688,505.07" stroke="#A58AFF" stroke-width="4.5" fill="none" stroke-linejoin="round"/>
<polyline points="222,598.25 377.6,540.28 533.3,359.45 688,500.42" stroke="#A58AFF" stroke-width="4.5" fill="none" stroke-linejoin="round"/>
<polyline points="222,594.18 377.6,541.3 533.3,357.1 688,505.82" stroke="#619CFF" stroke-width="4.5" fill="none" stroke-linejoin="round"/>
<polyline points="222,591.99 377.6,561.07 533.3,364.02 688,481.32" stroke="#A3A500" stroke-width="4.5" fill="none" stroke-linejoin="round"/>
<polyline points="222,576.68 377.6,579.38 533.3,364.52 688,477.82" stroke="#A3A500" stroke-width="4.5" fill="none" stroke-linejoin="round"/>
<polyline points="222,588.72 377.6,571.27 533.3,369.09 688,469.32" stroke="#C99800" stroke-width="4.5" fill="none" stroke-linejoin="round"/>
<polyline points="222,579.07 377.6,574.77 533.3,362.67 688,481.89" stroke="#A3A500" stroke-width="4.5" fill="none" stroke-linejoin="round"/>
<polyline points="222,597.56 377.6,559.23 533.3,368.56 688,473.05" stroke="#A3A500" stroke-width="4.5" fill="none" stroke-linejoin="round"/>
<polyline points="222,578.25 377.6,575.4 533.3,362.5 688,482.24" stroke="#B3A000" stroke-width="4.5" fill="none" stroke-linejoin="round"/>
<polyline points="222,597.09 377.6,550.85 533.3,362.64 688,487.82" stroke="#B3A000" stroke-width="4.5" fill="none" stroke-linejoin="round"/>
<polyline points="222,570.06 377.6,579.1 533.3,359.43 688,489.81" stroke="#97A900" stroke-width="4.5" fill="none" stroke-linejoin="round"/>
<polyline points="222,585.08 377.6,575.11 533.3,368.8 688,469.41" stroke="#B3A000" stroke-width="4.5" fill="none" stroke-linejoin="round"/>
<polyline points="222,577.03 377.6,567.94 533.3,356.93 688,496.5" stroke="#8CAB00" stroke-width="4.5" fill="none" stroke-linejoin="round"/>
<polyline points="222,587.12 377.6,553.75 533.3,356.65 688,500.87" stroke="#A3A500" stroke-width="4.5" fill="none" stroke-linejoin="round"/>
<polyline points="222,582.72 377.6,573.79 533.3,365.08 688,476.8" stroke="#A3A500" stroke-width="4.5" fill="none" stroke-linejoin="round"/>
<polyline points="222,587.66 377.6,567.25 533.3,364.41 688,479.08" stroke="#ABA300" stroke-width="4.5" fill="none" stroke-linejoin="round"/>
<polyline points="222,581.4 377.6,570.63 533.3,361.49 688,484.88" stroke="#C99800" stroke-width="4.5" fill="none" stroke-linejoin="round"/>
<polyline points="222,589.3 377.6,562.92 533.3,362.82 688,483.36" stroke="#ABA300" stroke-width="4.5" fill="none" stroke-linejoin="round"/>
<polyline points="222,596.21 377.6,553.18 533.3,363.08 688,485.93" stroke="#E08B00" stroke-width="4.5" fill="none" stroke-linejoin="round"/>
<polyline points="222,596.08 377.6,563.1 533.3,370.15 688,469.08" stroke="#A3A500" stroke-width="4.5" fill="none" stroke-linejoin="round"/>
<polyline points="222,580.15 377.6,562.37 533.3,356.07 688,499.82" stroke="#A3A500" stroke-width="4.5" fill="none" stroke-linejoin="round"/>
<polyline points="222,588.48 377.6,552.92 533.3,357.17 688,499.83" stroke="#B3A000" stroke-width="4.5" fill="none" stroke-linejoin="round"/>
<polyline points="222,594.51 377.6,557.53 533.3,364.08 688,482.27" stroke="#8CAB00" stroke-width="4.5" fill="none" stroke-linejoin="round"/>
<polyline points="222,584.28 377.6,571.38 533.3,364.51 688,478.22" stroke="#A3A500" stroke-width="4.5" fill="none" stroke-linejoin="round"/>
<polyline points="222,588.58 377.6,564.25 533.3,363.08 688,482.49" stroke="#E08B00" stroke-width="4.5" fill="none" stroke-linejoin="round"/>
<polyline points="222,592.92 377.6,550.51 533.3,359.19 688,495.79" stroke="#C99800" stroke-width="4.5" fill="none" stroke-linejoin="round"/>
<polyline points="222,589.54 377.6,562.91 533.3,363.03 688,482.92" stroke="#A3A500" stroke-width="4.5" fill="none" stroke-linejoin="round"/>
<polyline points="222,578.82 377.6,578 533.3,365.19 688,476.39" stroke="#A3A500" stroke-width="4.5" fill="none" stroke-linejoin="round"/>
<polyline points="222,591.8 377.6,559.94 533.3,363.12 688,483.54" stroke="#97A900" stroke-width="4.5" fill="none" stroke-linejoin="round"/>
<polyline points="222,591.18 377.6,562.58 533.3,364.31 688,480.33" stroke="#B3A000" stroke-width="4.5" fill="none" stroke-linejoin="round"/>
<polyline points="222,601.1 377.6,558.55 533.3,372.58 688,466.17" stroke="#C99800" stroke-width="4.5" fill="none" stroke-linejoin="round"/>
<polyline points="222,587.27 377.6,555.32 533.3,357.35 688,498.46" stroke="#A3A500" stroke-width="4.5" fill="none" stroke-linejoin="round"/>
<polyline points="222,596.8 377.6,547.34 533.3,360.8 688,493.47" stroke="#ABA300" stroke-width="4.5" fill="none" stroke-linejoin="round"/>
<polyline points="222,582.74 377.6,562.11 533.3,357.49 688,496.07" stroke="#A3A500" stroke-width="4.5" fill="none" stroke-linejoin="round"/>
<polyline points="222,571.94 377.6,576.02 533.3,358.55 688,491.89" stroke="#ABA300" stroke-width="4.5" fill="none" stroke-linejoin="round"/>
<polyline points="222,599.05 377.6,555.8 533.3,367.62 688,475.93" stroke="#B3A000" stroke-width="4.5" fill="none" stroke-linejoin="round"/>
<polyline points="222,597.03 377.6,563.03 533.3,371.34 688,467.01" stroke="#A3A500" stroke-width="4.5" fill="none" stroke-linejoin="round"/>
<polyline points="222,593.5 377.6,552.96 533.3,360.7 688,491.24" stroke="#A3A500" stroke-width="4.5" fill="none" stroke-linejoin="round"/>
<polyline points="222,591.91 377.6,561.39 533.3,364.18 688,480.91" stroke="#A3A500" stroke-width="4.5" fill="none" stroke-linejoin="round"/>
<polyline points="222,578.22 377.6,573.46 533.3,361.04 688,485.68" stroke="#8CAB00" stroke-width="4.5" fill="none" stroke-linejoin="round"/>
<polyline points="222,582.46 377.6,576.81 533.3,367.65 688,471.47" stroke="#A3A500" stroke-width="4.5" fill="none" stroke-linejoin="round"/>
<polyline points="222,596.12 377.6,550.3 533.3,361.54 688,490.44" stroke="#C99800" stroke-width="4.5" fill="none" stroke-linejoin="round"/>
<polyline points="222,570.96 377.6,576.82 533.3,358.47 688,492.15" stroke="#A3A500" stroke-width="4.5" fill="none" stroke-linejoin="round"/>
<polyline points="222,600.05 377.6,547.77 533.3,363.75 688,486.83" stroke="#8CAB00" stroke-width="4.5" fill="none" stroke-linejoin="round"/>
<polyline points="222,591.27 377.6,545.5 533.3,356.47 688,505.15" stroke="#A3A500" stroke-width="4.5" fill="none" stroke-linejoin="round"/>
<polyline points="222,589.67 377.6,548.88 533.3,356.52 688,503.33" stroke="#8CAB00" stroke-width="4.5" fill="none" stroke-linejoin="round"/>
<polyline points="222,575.23 377.6,571.71 533.3,357.93 688,493.52" stroke="#A3A500" stroke-width="4.5" fill="none" stroke-linejoin="round"/>
<polyline points="222,581.34 377.6,570.93 533.3,361.65 688,484.48" stroke="#A3A500" stroke-width="4.5" fill="none" stroke-linejoin="round"/>
<polyline points="222,579.84 377.6,578.37 533.3,366.51 688,473.69" stroke="#B3A000" stroke-width="4.5" fill="none" stroke-linejoin="round"/>
<polyline points="222,580.77 377.6,566.28 533.3,358.36 688,492.99" stroke="#B3A000" stroke-width="4.5" fill="none" stroke-linejoin="round"/>
<polyline points="222,589.56 377.6,570.83 533.3,369.65 688,468.36" stroke="#A3A500" stroke-width="4.5" fill="none" stroke-linejoin="round"/>
<polyline points="222,593.66 377.6,564.1 533.3,368.12 688,472.52" stroke="#C99800" stroke-width="4.5" fill="none" stroke-linejoin="round"/>
<polyline points="222,588.55 377.6,561.37 533.3,361.23 688,487.25" stroke="#A3A500" stroke-width="4.5" fill="none" stroke-linejoin="round"/>
<polyline points="222,597.32 377.6,550.79 533.3,362.81 688,487.48" stroke="#ABA300" stroke-width="4.5" fill="none" stroke-linejoin="round"/>
<polyline points="222,587.06 377.6,561.92 533.3,360.37 688,489.05" stroke="#A3A500" stroke-width="4.5" fill="none" stroke-linejoin="round"/>
<polyline points="222,574.4 377.6,574.08 533.3,358.84 688,491.08" stroke="#8CAB00" stroke-width="4.5" fill="none" stroke-linejoin="round"/>
<polyline points="222,600.42 377.6,547.08 533.3,363.76 688,487.14" stroke="#ABA300" stroke-width="4.5" fill="none" stroke-linejoin="round"/>
<polyline points="222,590.32 377.6,550.04 533.3,357.29 688,500.75" stroke="#A3A500" stroke-width="4.5" fill="none" stroke-linejoin="round"/>
<polyline points="222,591.79 377.6,563.95 533.3,365.94 688,476.73" stroke="#C99800" stroke-width="4.5" fill="none" stroke-linejoin="round"/>
<polyline points="222,583.49 377.6,564.66 533.3,359.31 688,490.94" stroke="#ABA300" stroke-width="4.5" fill="none" stroke-linejoin="round"/>
<polyline points="222,592.8 377.6,552.59 533.3,359.99 688,493.02" stroke="#A3A500" stroke-width="4.5" fill="none" stroke-linejoin="round"/>
<polyline points="222,569.29 377.6,576.53 533.3,357.35 688,495.23" stroke="#A3A500" stroke-width="4.5" fill="none" stroke-linejoin="round"/>
<polyline points="222,576.26 377.6,570.32 533.3,357.76 688,494.06" stroke="#9DA700" stroke-width="4.5" fill="none" stroke-linejoin="round"/>
<polyline points="222,587.85 377.6,552.95 533.3,356.79 688,500.81" stroke="#ABA300" stroke-width="4.5" fill="none" stroke-linejoin="round"/>
<polyline points="222,584.23 377.6,567.05 533.3,361.3 688,485.82" stroke="#97A900" stroke-width="4.5" fill="none" stroke-linejoin="round"/>
<polyline points="222,593.15 377.6,557.25 533.3,362.67 688,485.34" stroke="#C99800" stroke-width="4.5" fill="none" stroke-linejoin="round"/>
<polyline points="222,601 377.6,548.46 533.3,365.02 688,483.92" stroke="#A3A500" stroke-width="4.5" fill="none" stroke-linejoin="round"/>
<polyline points="222,578.54 377.6,560.18 533.3,354.36 688,505.32" stroke="#ABA300" stroke-width="4.5" fill="none" stroke-linejoin="round"/>
<polyline points="222,603.81 377.6,545.17 533.3,366.08 688,483.34" stroke="#9DA700" stroke-width="4.5" fill="none" stroke-linejoin="round"/>
<polyline points="222,584.99 377.6,574.95 533.3,368.53 688,469.92" stroke="#9DA700" stroke-width="4.5" fill="none" stroke-linejoin="round"/>
<polyline points="222,587.87 377.6,572.19 533.3,369.01 688,469.33" stroke="#A3A500" stroke-width="4.5" fill="none" stroke-linejoin="round"/>
<polyline points="222,586.85 377.6,567.74 533.3,364.02 688,479.79" stroke="#E08B00" stroke-width="4.5" fill="none" stroke-linejoin="round"/>
<polyline points="222,583.49 377.6,577.61 533.3,369.66 688,467.64" stroke="#E08B00" stroke-width="4.5" fill="none" stroke-linejoin="round"/>
<polyline points="222,601.01 377.6,553.56 533.3,368.24 688,475.58" stroke="#C99800" stroke-width="4.5" fill="none" stroke-linejoin="round"/>
<polyline points="222,587.89 377.6,566.72 533.3,364.22 688,479.57" stroke="#A3A500" stroke-width="4.5" fill="none" stroke-linejoin="round"/>
<polyline points="222,589.24 377.6,572.11 533.3,370.62 688,466.43" stroke="#C99800" stroke-width="4.5" fill="none" stroke-linejoin="round"/>
<polyline points="222,579.69 377.6,574.51 533.3,362.98 688,481.21" stroke="#E08B00" stroke-width="4.5" fill="none" stroke-linejoin="round"/>
<polyline points="222,602.28 377.6,551.36 533.3,368.16 688,476.6" stroke="#A3A500" stroke-width="4.5" fill="none" stroke-linejoin="round"/>
<polyline points="222,588.56 377.6,572.01 533.3,369.67 688,468.15" stroke="#ABA300" stroke-width="4.5" fill="none" stroke-linejoin="round"/>
<polyline points="222,595.75 377.6,564.16 533.3,370.75 688,467.74" stroke="#ABA300" stroke-width="4.5" fill="none" stroke-linejoin="round"/>
<polyline points="222,594.32 377.6,562.88 533.3,367.83 688,473.37" stroke="#ABA300" stroke-width="4.5" fill="none" stroke-linejoin="round"/>
<polyline points="222,589.66 377.6,560.79 533.3,361.79 688,486.16" stroke="#E08B00" stroke-width="4.5" fill="none" stroke-linejoin="round"/>
<polyline points="222,572.19 377.6,579.37 533.3,361.01 688,485.83" stroke="#A3A500" stroke-width="4.5" fill="none" stroke-linejoin="round"/>
<polyline points="222,604.29 377.6,552.59 533.3,371.62 688,469.9" stroke="#8CAB00" stroke-width="4.5" fill="none" stroke-linejoin="round"/>
<polyline points="222,597.41 377.6,552.94 533.3,364.05 688,484" stroke="#A3A500" stroke-width="4.5" fill="none" stroke-linejoin="round"/>
<polyline points="222,573.14 377.6,577.87 533.3,360.57 688,486.82" stroke="#ABA300" stroke-width="4.5" fill="none" stroke-linejoin="round"/>
<polyline points="222,571.47 377.6,570.06 533.3,355.05 688,501.82" stroke="#97A900" stroke-width="4.5" fill="none" stroke-linejoin="round"/>
<polyline points="222,584.35 377.6,576.57 533.3,369.52 688,467.96" stroke="#E08B00" stroke-width="4.5" fill="none" stroke-linejoin="round"/>
<polyline points="222,578.99 377.6,559.03 533.3,354.17 688,506.21" stroke="#A3A500" stroke-width="4.5" fill="none" stroke-linejoin="round"/>
<polyline points="222,580.08 377.6,558.96 533.3,354.68 688,504.69" stroke="#C99800" stroke-width="4.5" fill="none" stroke-linejoin="round"/>
<polyline points="222,586.92 377.6,549.57 533.3,355.19 688,506.72" stroke="#ABA300" stroke-width="4.5" fill="none" stroke-linejoin="round"/>
<polyline points="222,605.92 377.6,550.92 533.3,372.48 688,469.09" stroke="#A3A500" stroke-width="4.5" fill="none" stroke-linejoin="round"/>
<polyline points="222,595.26 377.6,539 533.3,357.22 688,506.92" stroke="#C99800" stroke-width="4.5" fill="none" stroke-linejoin="round"/>
</g>
<rect x="200" y="341.1" width="511.1" height="280.8" fill="none" stroke="#2e2e2e" stroke-width="2.2"/>
<path d="M191 346.7H200M191 398.1H200M191 448.7H200M191 499.6H200M191 550.4H200M191 601.3H200" stroke="#2e2e2e" stroke-width="4.3" fill="none"/>
<text class="ta" transform="translate(188.9,372) scale(0.912,1)" text-anchor="end" font-size="42.6">1.5</text>
<text class="ta" transform="translate(188.9,415.8) scale(0.912,1)" text-anchor="end" font-size="42.6">1.0</text>
<text class="ta" transform="translate(188.9,465.6) scale(0.912,1)" text-anchor="end" font-size="42.6">0.5</text>
<text class="ta" transform="translate(188.9,516.6) scale(0.912,1)" text-anchor="end" font-size="42.6">0.0</text>
<text class="ta" transform="translate(188.9,567.5) scale(0.912,1)" text-anchor="end" font-size="42.6">−<tspan dx="2.6">0.5</tspan></text>
<text class="ta" transform="translate(188.9,618.5) scale(0.912,1)" text-anchor="end" font-size="42.6">−<tspan dx="2.6">1.0</tspan></text>
</g>
<g id="pa5">
<clipPath id="cp5"><rect x="808.7" y="336.3" width="517.9" height="280"/></clipPath>
<g clip-path="url(#cp5)">
<path d="M808.7 380.2H1326.6M808.7 427.6H1326.6M808.7 475.8H1326.6M808.7 523H1326.6M808.7 570.7H1326.6M829.6 336.3V616.3M987 336.3V616.3M1144.3 336.3V616.3M1301.7 336.3V616.3" stroke="#ebebeb" stroke-width="4.3" fill="none"/>
<polyline points="829.6,605.3 987,455.81 1144.3,465.9 1301.7,376.19" stroke="#B79F00" stroke-width="4.5" fill="none" stroke-linejoin="round"/>
<polyline points="829.6,585.17 987,487.81 1144.3,477.23 1301.7,352.99" stroke="#C99800" stroke-width="4.5" fill="none" stroke-linejoin="round"/>
<polyline points="829.6,587.54 987,498.29 1144.3,459.62 1301.7,357.75" stroke="#A3A500" stroke-width="4.5" fill="none" stroke-linejoin="round"/>
<polyline points="829.6,593.74 987,484.48 1144.3,463.42 1301.7,361.56" stroke="#B79F00" stroke-width="4.5" fill="none" stroke-linejoin="round"/>
<polyline points="829.6,586.43 987,499.4 1144.3,460.57 1301.7,356.8" stroke="#F8766D" stroke-width="4.5" fill="none" stroke-linejoin="round"/>
<polyline points="829.6,571.84 987,532.08 1144.3,439.62 1301.7,359.66" stroke="#F8766D" stroke-width="4.5" fill="none" stroke-linejoin="round"/>
<polyline points="829.6,569.63 987,541.91 1144.3,420.58 1301.7,371.08" stroke="#F8766D" stroke-width="4.5" fill="none" stroke-linejoin="round"/>
<polyline points="829.6,582.97 987,527.61 1144.3,410.11 1301.7,382.5" stroke="#F8766D" stroke-width="4.5" fill="none" stroke-linejoin="round"/>
<polyline points="829.6,567.38 987,541.39 1144.3,402.02 1301.7,392.4" stroke="#53B400" stroke-width="4.5" fill="none" stroke-linejoin="round"/>
<polyline points="829.6,601.35 987,492.91 1144.3,426.34 1301.7,382.6" stroke="#53B400" stroke-width="4.5" fill="none" stroke-linejoin="round"/>
<polyline points="829.6,595.02 987,501.97 1144.3,432.44 1301.7,373.77" stroke="#53B400" stroke-width="4.5" fill="none" stroke-linejoin="round"/>
<polyline points="829.6,600.87 987,489.73 1144.3,435.39 1301.7,377.21" stroke="#7CAE00" stroke-width="4.5" fill="none" stroke-linejoin="round"/>
<polyline points="829.6,599.06 987,491.76 1144.3,438.19 1301.7,374.18" stroke="#39B600" stroke-width="4.5" fill="none" stroke-linejoin="round"/>
<polyline points="829.6,595.68 987,498.62 1144.3,436.98 1301.7,371.92" stroke="#7CAE00" stroke-width="4.5" fill="none" stroke-linejoin="round"/>
<polyline points="829.6,599.8 987,494.46 1144.3,429.85 1301.7,379.08" stroke="#39B600" stroke-width="4.5" fill="none" stroke-linejoin="round"/>
<polyline points="829.6,591.26 987,510.91 1144.3,425.9 1301.7,375.12" stroke="#39B600" stroke-width="4.5" fill="none" stroke-linejoin="round"/>
<polyline points="829.6,599.27 987,491.12 1144.3,438.65 1301.7,374.16" stroke="#53B400" stroke-width="4.5" fill="none" stroke-linejoin="round"/>
<polyline points="829.6,597.2 987,502.09 1144.3,422.6 1301.7,381.3" stroke="#53B400" stroke-width="4.5" fill="none" stroke-linejoin="round"/>
<polyline points="829.6,589.38 987,509.59 1144.3,435.93 1301.7,368.3" stroke="#6BB100" stroke-width="4.5" fill="none" stroke-linejoin="round"/>
<polyline points="829.6,588.96 987,512.42 1144.3,431.11 1301.7,370.7" stroke="#39B600" stroke-width="4.5" fill="none" stroke-linejoin="round"/>
<polyline points="829.6,602.57 987,489.49 1144.3,428.67 1301.7,382.47" stroke="#6BB100" stroke-width="4.5" fill="none" stroke-linejoin="round"/>
<polyline points="829.6,596.06 987,505.2 1144.3,419.19 1301.7,382.76" stroke="#8CAB00" stroke-width="4.5" fill="none" stroke-linejoin="round"/>
<polyline points="829.6,589.56 987,518.02 1144.3,410.07 1301.7,385.55" stroke="#E58700" stroke-width="4.5" fill="none" stroke-linejoin="round"/>
<polyline points="829.6,582.25 987,529.64 1144.3,403.17 1301.7,388.14" stroke="#D89000" stroke-width="4.5" fill="none" stroke-linejoin="round"/>
<polyline points="829.6,588.76 987,518.47 1144.3,413.8 1301.7,382.18" stroke="#E08B00" stroke-width="4.5" fill="none" stroke-linejoin="round"/>
<polyline points="829.6,574.37 987,539.2 1144.3,407.77 1301.7,381.86" stroke="#D89000" stroke-width="4.5" fill="none" stroke-linejoin="round"/>
<polyline points="829.6,582.68 987,527.97 1144.3,410.3 1301.7,382.25" stroke="#E08B00" stroke-width="4.5" fill="none" stroke-linejoin="round"/>
<polyline points="829.6,580.72 987,531.26 1144.3,406.64 1301.7,384.58" stroke="#E58700" stroke-width="4.5" fill="none" stroke-linejoin="round"/>
<polyline points="829.6,584.73 987,524.98 1144.3,411.02 1301.7,382.47" stroke="#E58700" stroke-width="4.5" fill="none" stroke-linejoin="round"/>
<polyline points="829.6,578.41 987,533.84 1144.3,409.39 1301.7,381.56" stroke="#E08B00" stroke-width="4.5" fill="none" stroke-linejoin="round"/>
<polyline points="829.6,575.96 987,537.74 1144.3,404.32 1301.7,385.18" stroke="#E58700" stroke-width="4.5" fill="none" stroke-linejoin="round"/>
<polyline points="829.6,578.46 987,534.08 1144.3,407.67 1301.7,383" stroke="#E08B00" stroke-width="4.5" fill="none" stroke-linejoin="round"/>
<polyline points="829.6,579.79 987,532.05 1144.3,409.37 1301.7,382" stroke="#D89000" stroke-width="4.5" fill="none" stroke-linejoin="round"/>
<polyline points="829.6,586.52 987,523.08 1144.3,407.1 1301.7,386.5" stroke="#E08B00" stroke-width="4.5" fill="none" stroke-linejoin="round"/>
<polyline points="829.6,590.1 987,517.36 1144.3,409.09 1301.7,386.65" stroke="#D89000" stroke-width="4.5" fill="none" stroke-linejoin="round"/>
<polyline points="829.6,604.18 987,488.18 1144.3,423.44 1301.7,387.41" stroke="#53B400" stroke-width="4.5" fill="none" stroke-linejoin="round"/>
</g>
<rect x="808.7" y="336.3" width="517.9" height="280" fill="none" stroke="#2e2e2e" stroke-width="2.2"/>
<path d="M799.7 380.2H808.7M799.7 427.6H808.7M799.7 475.8H808.7M799.7 523H808.7M799.7 570.7H808.7M831 616.3V624.3M987.2 616.3V624.3M1141.8 616.3V624.3M1297.4 616.3V624.3" stroke="#2e2e2e" stroke-width="4.3" fill="none"/>
<text class="ta" transform="translate(796.9,389.6) scale(0.912,1)" text-anchor="end" font-size="42.6">1.0</text>
<text class="ta" transform="translate(796.9,437.1) scale(0.912,1)" text-anchor="end" font-size="42.6">0.5</text>
<text class="ta" transform="translate(796.9,485.2) scale(0.912,1)" text-anchor="end" font-size="42.6">0.0</text>
<text class="ta" transform="translate(796.9,532.3) scale(0.912,1)" text-anchor="end" font-size="42.6">−<tspan dx="2.6">0.5</tspan></text>
<text class="ta" transform="translate(796.9,579.8) scale(0.912,1)" text-anchor="end" font-size="42.6">−<tspan dx="2.6">1.0</tspan></text>
<text x="830.8" y="660.2" text-anchor="middle" font-size="41.5">S1</text>
<text x="986.45" y="660.2" text-anchor="middle" font-size="41.5">S2</text>
<text x="1142.4" y="660.2" text-anchor="middle" font-size="41.5">S3</text>
<text x="1297.15" y="660.2" text-anchor="middle" font-size="41.5">S4</text>
</g>
<g id="pa6">
<clipPath id="cp6"><rect x="1419.6" y="336.5" width="524" height="279.8"/></clipPath>
<g clip-path="url(#cp6)">
<path d="M1419.6 397H1943.6M1419.6 495.5H1943.6M1419.6 593.4H1943.6M1442.2 336.5V616.3M1601.2 336.5V616.3M1761.2 336.5V616.3M1920.2 336.5V616.3" stroke="#ebebeb" stroke-width="4.3" fill="none"/>
<polyline points="1442.2,603.23 1601.2,506.2 1761.2,366.86 1920.2,503.36" stroke="#00BA38" stroke-width="4.5" fill="none" stroke-linejoin="round"/>
<polyline points="1442.2,601.56 1601.2,507.77 1761.2,365.88 1920.2,504.34" stroke="#53B400" stroke-width="4.5" fill="none" stroke-linejoin="round"/>
<polyline points="1442.2,597.63 1601.2,515.14 1761.2,361.95 1920.2,499.92" stroke="#A3A500" stroke-width="4.5" fill="none" stroke-linejoin="round"/>
<polyline points="1442.2,588.69 1601.2,541.65 1761.2,354.09 1920.2,502.37" stroke="#00BA38" stroke-width="4.5" fill="none" stroke-linejoin="round"/>
<polyline points="1442.2,586.83 1601.2,543.62 1761.2,355.07 1920.2,505.32" stroke="#00BA38" stroke-width="4.5" fill="none" stroke-linejoin="round"/>
<polyline points="1442.2,546.07 1601.2,557.37 1761.2,364.89 1920.2,520.05" stroke="#53B400" stroke-width="4.5" fill="none" stroke-linejoin="round"/>
<polyline points="1442.2,547.55 1601.2,554.42 1761.2,366.86 1920.2,517.1" stroke="#53B400" stroke-width="4.5" fill="none" stroke-linejoin="round"/>
<polyline points="1442.2,542.14 1601.2,513.18 1761.2,353.11 1920.2,572.59" stroke="#8CAB00" stroke-width="4.5" fill="none" stroke-linejoin="round"/>
<polyline points="1442.2,536.74 1601.2,560.31 1761.2,349.67 1920.2,537.73" stroke="#00C0AF" stroke-width="4.5" fill="none" stroke-linejoin="round"/>
<polyline points="1442.2,552.85 1601.2,562.28 1761.2,351.15 1920.2,544.6" stroke="#00C19F" stroke-width="4.5" fill="none" stroke-linejoin="round"/>
<polyline points="1442.2,565.03 1601.2,556.38 1761.2,352.13 1920.2,530.85" stroke="#00C0AF" stroke-width="4.5" fill="none" stroke-linejoin="round"/>
<polyline points="1442.2,559.33 1601.2,558.84 1761.2,350.65 1920.2,547.06" stroke="#00C19F" stroke-width="4.5" fill="none" stroke-linejoin="round"/>
<polyline points="1442.2,564.24 1601.2,560.8 1761.2,351.64 1920.2,541.65" stroke="#00C19F" stroke-width="4.5" fill="none" stroke-linejoin="round"/>
<polyline points="1442.2,554.42 1601.2,559.82 1761.2,351.15 1920.2,534.78" stroke="#00C0AF" stroke-width="4.5" fill="none" stroke-linejoin="round"/>
<polyline points="1442.2,570.13 1601.2,544.6 1761.2,353.11 1920.2,527.91" stroke="#00C0AF" stroke-width="4.5" fill="none" stroke-linejoin="round"/>
<polyline points="1442.2,574.06 1601.2,539.69 1761.2,354.09 1920.2,504.34" stroke="#00C19F" stroke-width="4.5" fill="none" stroke-linejoin="round"/>
<polyline points="1442.2,562.28 1601.2,552.46 1761.2,352.13 1920.2,525.94" stroke="#00C0AF" stroke-width="4.5" fill="none" stroke-linejoin="round"/>
<polyline points="1442.2,574.06 1601.2,527.91 1761.2,355.07 1920.2,520.05" stroke="#00B8E7" stroke-width="4.5" fill="none" stroke-linejoin="round"/>
<polyline points="1442.2,572.1 1601.2,525.94 1761.2,356.06 1920.2,522.01" stroke="#00B8E7" stroke-width="4.5" fill="none" stroke-linejoin="round"/>
<polyline points="1442.2,576.02 1601.2,529.87 1761.2,354.09 1920.2,518.58" stroke="#00BCD8" stroke-width="4.5" fill="none" stroke-linejoin="round"/>
<polyline points="1442.2,568.86 1601.2,547.55 1761.2,358.02 1920.2,542.64" stroke="#F8766D" stroke-width="4.5" fill="none" stroke-linejoin="round"/>
<polyline points="1442.2,593.31 1601.2,510.82 1761.2,359.98 1920.2,524.96" stroke="#F8766D" stroke-width="4.5" fill="none" stroke-linejoin="round"/>
<polyline points="1442.2,555.4 1601.2,546.56 1761.2,356.06 1920.2,515.14" stroke="#EF7F49" stroke-width="4.5" fill="none" stroke-linejoin="round"/>
<polyline points="1442.2,579.56 1601.2,535.27 1761.2,353.11 1920.2,508.27" stroke="#EF7F49" stroke-width="4.5" fill="none" stroke-linejoin="round"/>
<polyline points="1442.2,583.88 1601.2,520.74 1761.2,354.09 1920.2,510.23" stroke="#EF7F49" stroke-width="4.5" fill="none" stroke-linejoin="round"/>
<polyline points="1442.2,585.65 1601.2,524.96 1761.2,352.13 1920.2,512.19" stroke="#EF7F49" stroke-width="4.5" fill="none" stroke-linejoin="round"/>
<polyline points="1442.2,581.92 1601.2,523 1761.2,355.07 1920.2,513.67" stroke="#EF7F49" stroke-width="4.5" fill="none" stroke-linejoin="round"/>
<polyline points="1442.2,593.7 1601.2,512.19 1761.2,357.04 1920.2,511.21" stroke="#F8766D" stroke-width="4.5" fill="none" stroke-linejoin="round"/>
<polyline points="1442.2,580.93 1601.2,534.78 1761.2,351.15 1920.2,509.25" stroke="#EF7F49" stroke-width="4.5" fill="none" stroke-linejoin="round"/>
</g>
<rect x="1419.6" y="336.5" width="524" height="279.8" fill="none" stroke="#2e2e2e" stroke-width="2.2"/>
<path d="M1410.6 397H1419.6M1410.6 495.5H1419.6M1410.6 593.4H1419.6M1442.7 616.3V624.3M1601.4 616.3V624.3M1761.1 616.3V624.3M1920.2 616.3V624.3" stroke="#2e2e2e" stroke-width="4.3" fill="none"/>
<text class="ta" transform="translate(1404.1,405.6) scale(0.912,1)" text-anchor="end" font-size="42.6">1</text>
<text class="ta" transform="translate(1402.7,504.8) scale(0.912,1)" text-anchor="end" font-size="42.6">0</text>
<text class="ta" transform="translate(1411.6,602.6) scale(0.912,1)" text-anchor="end" font-size="42.6">−1</text>
<text x="1443.5" y="660" text-anchor="middle" font-size="41.5">S1</text>
<text x="1603.65" y="660" text-anchor="middle" font-size="41.5">S2</text>
<text x="1763.5" y="660" text-anchor="middle" font-size="41.5">S3</text>
<text x="1922.15" y="660" text-anchor="middle" font-size="41.5">S4</text>
</g>
<g id="pa7">
<clipPath id="cp7"><rect x="200" y="660.8" width="511.1" height="280.9"/></clipPath>
<g clip-path="url(#cp7)">
<path d="M200 701.2H711.1M200 751.2H711.1M200 801.3H711.1M200 851.1H711.1M200 901.2H711.1M222.2 660.8V941.7M377.6 660.8V941.7M533.3 660.8V941.7M688 660.8V941.7" stroke="#ebebeb" stroke-width="4.3" fill="none"/>
<polyline points="222.2,917.61 377.6,818.5 533.3,674.29 688,794.8" stroke="#00BA38" stroke-width="4.5" fill="none" stroke-linejoin="round"/>
<polyline points="222.2,918.11 377.6,818.9 533.3,674.89 688,793.3" stroke="#00BC59" stroke-width="4.5" fill="none" stroke-linejoin="round"/>
<polyline points="222.2,925.96 377.6,834.74 533.3,701.7 688,742.8" stroke="#53B400" stroke-width="4.5" fill="none" stroke-linejoin="round"/>
<polyline points="222.2,925.13 377.6,835.97 533.3,700.8 688,743.3" stroke="#6BB100" stroke-width="4.5" fill="none" stroke-linejoin="round"/>
<polyline points="222.2,921.22 377.6,825.4 533.3,680.98 688,777.6" stroke="#00BCD8" stroke-width="4.5" fill="none" stroke-linejoin="round"/>
<polyline points="222.2,923.26 377.6,838.54 533.3,698.6 688,744.8" stroke="#00BCD8" stroke-width="4.5" fill="none" stroke-linejoin="round"/>
<polyline points="222.2,919.98 377.6,826.3 533.3,679.62 688,779.3" stroke="#00C0AF" stroke-width="4.5" fill="none" stroke-linejoin="round"/>
<polyline points="222.2,921.5 377.6,825.8 533.3,681.6 688,776.3" stroke="#00BCD8" stroke-width="4.5" fill="none" stroke-linejoin="round"/>
<polyline points="222.2,896.5 377.6,866.1 533.3,676.93 688,765.67" stroke="#EF7F49" stroke-width="4.5" fill="none" stroke-linejoin="round"/>
<polyline points="222.2,896.8 377.6,865.3 533.3,676.47 688,766.63" stroke="#EF7F49" stroke-width="4.5" fill="none" stroke-linejoin="round"/>
<polyline points="222.2,897.3 377.6,864.3 533.3,676.11 688,767.49" stroke="#EF7F49" stroke-width="4.5" fill="none" stroke-linejoin="round"/>
<polyline points="222.2,921.12 377.6,822.3 533.3,679.48 688,782.3" stroke="#00BC59" stroke-width="4.5" fill="none" stroke-linejoin="round"/>
<polyline points="222.2,917.66 377.6,823.3 533.3,675.54 688,788.7" stroke="#C99800" stroke-width="4.5" fill="none" stroke-linejoin="round"/>
<polyline points="222.2,910.2 377.6,847.3 533.3,678.97 688,768.73" stroke="#00BCD8" stroke-width="4.5" fill="none" stroke-linejoin="round"/>
<polyline points="222.2,922.3 377.6,831.3 533.3,686.69 688,764.91" stroke="#EF7F49" stroke-width="4.5" fill="none" stroke-linejoin="round"/>
<polyline points="222.2,925.4 377.6,826.8 533.3,689.36 688,763.64" stroke="#00BCD8" stroke-width="4.5" fill="none" stroke-linejoin="round"/>
<polyline points="222.2,928.1 377.6,828.3 533.3,698.27 688,750.53" stroke="#C99800" stroke-width="4.5" fill="none" stroke-linejoin="round"/>
<polyline points="222.2,914 377.6,841.14 533.3,679.88 688,770.18" stroke="#D39200" stroke-width="4.5" fill="none" stroke-linejoin="round"/>
<polyline points="222.2,922.89 377.6,830.54 533.3,687.25 688,764.52" stroke="#CF9400" stroke-width="4.5" fill="none" stroke-linejoin="round"/>
<polyline points="222.2,917.1 377.6,835.76 533.3,680.81 688,771.54" stroke="#CB9700" stroke-width="4.5" fill="none" stroke-linejoin="round"/>
<polyline points="222.2,919.99 377.6,842.48 533.3,694.55 688,748.18" stroke="#C59900" stroke-width="4.5" fill="none" stroke-linejoin="round"/>
<polyline points="222.2,915.98 377.6,843.07 533.3,685.22 688,760.94" stroke="#C59900" stroke-width="4.5" fill="none" stroke-linejoin="round"/>
<polyline points="222.2,907.28 377.6,856.45 533.3,683.68 688,757.79" stroke="#C99800" stroke-width="4.5" fill="none" stroke-linejoin="round"/>
<polyline points="222.2,920.49 377.6,834.29 533.3,685.67 688,764.75" stroke="#C99800" stroke-width="4.5" fill="none" stroke-linejoin="round"/>
<polyline points="222.2,904.48 377.6,860.95 533.3,684.24 688,755.53" stroke="#C99800" stroke-width="4.5" fill="none" stroke-linejoin="round"/>
<polyline points="222.2,916.73 377.6,846.31 533.3,691.25 688,750.91" stroke="#C99800" stroke-width="4.5" fill="none" stroke-linejoin="round"/>
<polyline points="222.2,921.26 377.6,835.87 533.3,688.87 688,759.2" stroke="#CB9700" stroke-width="4.5" fill="none" stroke-linejoin="round"/>
<polyline points="222.2,922.68 377.6,832.86 533.3,688.94 688,760.72" stroke="#C99800" stroke-width="4.5" fill="none" stroke-linejoin="round"/>
<polyline points="222.2,914.24 377.6,841.46 533.3,680.52 688,768.98" stroke="#CB9700" stroke-width="4.5" fill="none" stroke-linejoin="round"/>
<polyline points="222.2,920.93 377.6,829.88 533.3,683.1 688,771.29" stroke="#D39200" stroke-width="4.5" fill="none" stroke-linejoin="round"/>
<polyline points="222.2,907.96 377.6,855.42 533.3,683.71 688,758.11" stroke="#CB9700" stroke-width="4.5" fill="none" stroke-linejoin="round"/>
<polyline points="222.2,914.2 377.6,846.59 533.3,685.54 688,758.87" stroke="#CB9700" stroke-width="4.5" fill="none" stroke-linejoin="round"/>
<polyline points="222.2,911.72 377.6,848.55 533.3,682.81 688,762.12" stroke="#C99800" stroke-width="4.5" fill="none" stroke-linejoin="round"/>
<polyline points="222.2,921.76 377.6,830.53 533.3,685.03 688,767.88" stroke="#CB9700" stroke-width="4.5" fill="none" stroke-linejoin="round"/>
<polyline points="222.2,902.41 377.6,857.82 533.3,676.89 688,768.08" stroke="#D89000" stroke-width="4.5" fill="none" stroke-linejoin="round"/>
<polyline points="222.2,916.69 377.6,838.26 533.3,682.04 688,768.2" stroke="#CB9700" stroke-width="4.5" fill="none" stroke-linejoin="round"/>
<polyline points="222.2,913.14 377.6,851.91 533.3,690.62 688,749.53" stroke="#D39200" stroke-width="4.5" fill="none" stroke-linejoin="round"/>
<polyline points="222.2,919.96 377.6,838.51 533.3,688.81 688,757.91" stroke="#C99800" stroke-width="4.5" fill="none" stroke-linejoin="round"/>
<polyline points="222.2,919.98 377.6,836.87 533.3,687.07 688,761.27" stroke="#C59900" stroke-width="4.5" fill="none" stroke-linejoin="round"/>
<polyline points="222.2,905.52 377.6,857.58 533.3,681.73 688,760.37" stroke="#CB9700" stroke-width="4.5" fill="none" stroke-linejoin="round"/>
<polyline points="222.2,909.92 377.6,849.93 533.3,681 688,764.35" stroke="#D89000" stroke-width="4.5" fill="none" stroke-linejoin="round"/>
<polyline points="222.2,922.69 377.6,832.88 533.3,688.99 688,760.63" stroke="#C99800" stroke-width="4.5" fill="none" stroke-linejoin="round"/>
<polyline points="222.2,912.72 377.6,850.34 533.3,687.09 688,755.06" stroke="#CB9700" stroke-width="4.5" fill="none" stroke-linejoin="round"/>
<polyline points="222.2,918.8 377.6,839.84 533.3,687.69 688,758.87" stroke="#C99800" stroke-width="4.5" fill="none" stroke-linejoin="round"/>
<polyline points="222.2,904.31 377.6,863.2 533.3,687.54 688,750.15" stroke="#D89000" stroke-width="4.5" fill="none" stroke-linejoin="round"/>
<polyline points="222.2,906.3 377.6,853.4 533.3,678.48 688,767.02" stroke="#C99800" stroke-width="4.5" fill="none" stroke-linejoin="round"/>
<polyline points="222.2,920.03 377.6,836.93 533.3,687.24 688,761.01" stroke="#EF7F49" stroke-width="4.5" fill="none" stroke-linejoin="round"/>
<polyline points="222.2,921.93 377.6,834.03 533.3,688.44 688,760.8" stroke="#C99800" stroke-width="4.5" fill="none" stroke-linejoin="round"/>
<polyline points="222.2,907.44 377.6,853.49 533.3,680.44 688,763.83" stroke="#C99800" stroke-width="4.5" fill="none" stroke-linejoin="round"/>
<polyline points="222.2,908.03 377.6,853.22 533.3,681.19 688,762.76" stroke="#C99800" stroke-width="4.5" fill="none" stroke-linejoin="round"/>
<polyline points="222.2,920.68 377.6,839.61 533.3,692.06 688,752.85" stroke="#D39200" stroke-width="4.5" fill="none" stroke-linejoin="round"/>
<polyline points="222.2,920.13 377.6,830.29 533.3,682.04 688,772.73" stroke="#CB9700" stroke-width="4.5" fill="none" stroke-linejoin="round"/>
<polyline points="222.2,908.42 377.6,858.75 533.3,690 688,748.03" stroke="#CB9700" stroke-width="4.5" fill="none" stroke-linejoin="round"/>
<polyline points="222.2,916.06 377.6,841.75 533.3,684.01 688,763.38" stroke="#CF9400" stroke-width="4.5" fill="none" stroke-linejoin="round"/>
<polyline points="222.2,903.93 377.6,857.8 533.3,679.24 688,764.23" stroke="#C99800" stroke-width="4.5" fill="none" stroke-linejoin="round"/>
<polyline points="222.2,917.57 377.6,845.89 533.3,692.98 688,748.76" stroke="#C99800" stroke-width="4.5" fill="none" stroke-linejoin="round"/>
<polyline points="222.2,923.4 377.6,836.79 533.3,695.91 688,749.09" stroke="#C99800" stroke-width="4.5" fill="none" stroke-linejoin="round"/>
<polyline points="222.2,909.44 377.6,856.53 533.3,688.72 688,750.51" stroke="#CB9700" stroke-width="4.5" fill="none" stroke-linejoin="round"/>
<polyline points="222.2,925.42 377.6,831.08 533.3,693.82 688,754.88" stroke="#CF9400" stroke-width="4.5" fill="none" stroke-linejoin="round"/>
<polyline points="222.2,906.07 377.6,852.05 533.3,676.89 688,770.19" stroke="#C99800" stroke-width="4.5" fill="none" stroke-linejoin="round"/>
<polyline points="222.2,905.42 377.6,860.54 533.3,685.66 688,753.58" stroke="#CB9700" stroke-width="4.5" fill="none" stroke-linejoin="round"/>
<polyline points="222.2,917.32 377.6,835.11 533.3,680.72 688,772.05" stroke="#C99800" stroke-width="4.5" fill="none" stroke-linejoin="round"/>
<polyline points="222.2,905.17 377.6,858.55 533.3,682.32 688,759.15" stroke="#CF9400" stroke-width="4.5" fill="none" stroke-linejoin="round"/>
<polyline points="222.2,926.08 377.6,830.97 533.3,695.6 688,752.56" stroke="#C99800" stroke-width="4.5" fill="none" stroke-linejoin="round"/>
<polyline points="222.2,925.31 377.6,830.1 533.3,692.37 688,757.43" stroke="#C59900" stroke-width="4.5" fill="none" stroke-linejoin="round"/>
<polyline points="222.2,921.62 377.6,840.36 533.3,696.15 688,747.08" stroke="#C99800" stroke-width="4.5" fill="none" stroke-linejoin="round"/>
<polyline points="222.2,917.34 377.6,845.15 533.3,691.1 688,751.62" stroke="#C59900" stroke-width="4.5" fill="none" stroke-linejoin="round"/>
<polyline points="222.2,911.97 377.6,853.3 533.3,689.84 688,750.08" stroke="#D39200" stroke-width="4.5" fill="none" stroke-linejoin="round"/>
<polyline points="222.2,911.18 377.6,846.28 533.3,679.64 688,768.11" stroke="#C59900" stroke-width="4.5" fill="none" stroke-linejoin="round"/>
<polyline points="222.2,913.93 377.6,848.23 533.3,686.99 688,756.06" stroke="#D39200" stroke-width="4.5" fill="none" stroke-linejoin="round"/>
<polyline points="222.2,915.19 377.6,849.5 533.3,692.25 688,748.26" stroke="#C99800" stroke-width="4.5" fill="none" stroke-linejoin="round"/>
<polyline points="222.2,923.17 377.6,830.33 533.3,687.64 688,764.06" stroke="#CB9700" stroke-width="4.5" fill="none" stroke-linejoin="round"/>
<polyline points="222.2,912.7 377.6,848.33 533.3,684.49 688,759.68" stroke="#CB9700" stroke-width="4.5" fill="none" stroke-linejoin="round"/>
<polyline points="222.2,905.71 377.6,855.36 533.3,679.52 688,764.61" stroke="#C99800" stroke-width="4.5" fill="none" stroke-linejoin="round"/>
<polyline points="222.2,911.81 377.6,845.26 533.3,679.77 688,768.35" stroke="#C99800" stroke-width="4.5" fill="none" stroke-linejoin="round"/>
<polyline points="222.2,919.47 377.6,838.6 533.3,687.79 688,759.34" stroke="#D89000" stroke-width="4.5" fill="none" stroke-linejoin="round"/>
<polyline points="222.2,916.9 377.6,842.15 533.3,686.13 688,760.03" stroke="#EF7F49" stroke-width="4.5" fill="none" stroke-linejoin="round"/>
</g>
<rect x="200" y="660.8" width="511.1" height="280.9" fill="none" stroke="#2e2e2e" stroke-width="2.2"/>
<path d="M191 701.2H200M191 751.2H200M191 801.3H200M191 851.1H200M191 901.2H200M221.8 941.7V949.7M377.4 941.7V949.7M532.7 941.7V949.7M687.6 941.7V949.7" stroke="#2e2e2e" stroke-width="4.3" fill="none"/>
<text class="ta" transform="translate(188.9,712.4) scale(0.912,1)" text-anchor="end" font-size="42.6">1.0</text>
<text class="ta" transform="translate(188.9,761.8) scale(0.912,1)" text-anchor="end" font-size="42.6">0.5</text>
<text class="ta" transform="translate(188.9,811.6) scale(0.912,1)" text-anchor="end" font-size="42.6">0.0</text>
<text class="ta" transform="translate(188.9,860.3) scale(0.912,1)" text-anchor="end" font-size="42.6">−<tspan dx="2.6">0.5</tspan></text>
<text class="ta" transform="translate(188.9,910.2) scale(0.912,1)" text-anchor="end" font-size="42.6">−<tspan dx="2.6">1.0</tspan></text>
<text x="219.65" y="991" text-anchor="middle" font-size="41.5">S1</text>
<text x="376.35" y="991" text-anchor="middle" font-size="41.5">S2</text>
<text x="540.25" y="991" text-anchor="middle" font-size="41.5">S3</text>
<text x="690.2" y="991" text-anchor="middle" font-size="41.5">S4</text>
</g>
<text transform="translate(12.2,34.4) scale(1.035,1)" font-size="42.4" font-weight="bold">A</text>
<text x="10.8" y="1057.2" font-size="42.6" font-weight="bold">B</text>
<text transform="translate(121.4,815.4) rotate(-90)" font-size="41.8">SBD</text>
<g id="pb">
<path d="M196.6 1943.3H1944M196.6 1689.2H1944M196.6 1435.2H1944M196.6 1181.3H1944" stroke="#1a1a1a" stroke-width="1.3" stroke-dasharray="25 25" fill="none"/>
<path d="M180.2 1943.3H212.8M180.2 1689.2H212.8M180.2 1435.2H212.8M180.2 1181.3H212.8M180.2 2196.7H197" stroke="#b4b4b4" stroke-width="3.8" fill="none"/>
<path d="M480.6 2181V2213.5M873.9 2181V2213.5M1266.9 2181V2213.5M1659.9 2181V2213.5" stroke="#3a3a3a" stroke-width="1.3" fill="none"/>
<g stroke="#e41a1c" stroke-width="4.0" fill="none">
<polyline points="480.6,2121.5 873.9,1721.95 1266.9,1386.8 1659.9,1433.25" stroke-linejoin="miter"/>
<path d="M431.2 2102H530M431.2 2141H530M480.6 2102V2141M824.5 1677.5H923.3M824.5 1766.4H923.3M873.9 1677.5V1766.4M1217.5 1325.8H1316.3M1217.5 1447.8H1316.3M1266.9 1325.8V1447.8M1610.5 1373.8H1709.3M1610.5 1492.7H1709.3M1659.9 1373.8V1492.7"/>
</g>
<g stroke="#377eb8" stroke-width="4.0" fill="none">
<polyline points="480.6,2077.05 873.9,1684.55 1266.9,1377.6 1659.9,1911" stroke-linejoin="miter"/>
<path d="M431.2 2033.1H530M431.2 2121H530M480.6 2033.1V2121M824.5 1580.1H923.3M824.5 1789H923.3M873.9 1580.1V1789M1217.5 1260.3H1316.3M1217.5 1494.9H1316.3M1266.9 1260.3V1494.9M1610.5 1830H1709.3M1610.5 1992H1709.3M1659.9 1830V1992"/>
</g>
<g stroke="#4daf4a" stroke-width="4.0" fill="none">
<polyline points="480.6,2152 873.9,2035.9 1266.9,1429.95 1659.9,1572.5" stroke-linejoin="miter"/>
<path d="M431.2 2141.1H530M431.2 2162.9H530M480.6 2141.1V2162.9M824.5 2017.3H923.3M824.5 2054.5H923.3M873.9 2017.3V2054.5M1217.5 1400.8H1316.3M1217.5 1459.1H1316.3M1266.9 1400.8V1459.1M1610.5 1544H1709.3M1610.5 1601H1709.3M1659.9 1544V1601"/>
</g>
<g stroke="#984ea3" stroke-width="4.0" fill="none">
<polyline points="480.6,2144.35 873.9,2017.65 1266.9,1340.1 1659.9,1768.3" stroke-linejoin="miter"/>
<path d="M431.2 2132.3H530M431.2 2156.4H530M480.6 2132.3V2156.4M824.5 2000.3H923.3M824.5 2035H923.3M873.9 2000.3V2035M1217.5 1313.9H1316.3M1217.5 1366.3H1316.3M1266.9 1313.9V1366.3M1610.5 1748.7H1709.3M1610.5 1787.9H1709.3M1659.9 1748.7V1787.9"/>
</g>
<g stroke="#ff7f00" stroke-width="4.0" fill="none">
<polyline points="480.6,2128.6 873.9,1852.5 1266.9,1526.6 1659.9,1313.1" stroke-linejoin="miter"/>
<path d="M431.2 2112.8H530M431.2 2144.4H530M480.6 2112.8V2144.4M824.5 1809H923.3M824.5 1896H923.3M873.9 1809V1896M1217.5 1473.1H1316.3M1217.5 1580.1H1316.3M1266.9 1473.1V1580.1M1610.5 1252.4H1709.3M1610.5 1373.8H1709.3M1659.9 1252.4V1373.8"/>
</g>
<g stroke="#fb80bb" stroke-width="4.0" fill="none">
<polyline points="480.6,2119 873.9,1961.35 1266.9,1365.45 1659.9,1934.8" stroke-linejoin="miter"/>
<path d="M431.2 2105.7H530M431.2 2132.3H530M480.6 2105.7V2132.3M824.5 1935.3H923.3M824.5 1987.4H923.3M873.9 1935.3V1987.4M1217.5 1320.8H1316.3M1217.5 1410.1H1316.3M1266.9 1320.8V1410.1M1610.5 1910.7H1709.3M1610.5 1958.9H1709.3M1659.9 1910.7V1958.9"/>
</g>
<g stroke="#ae4b2c" stroke-width="4.0" fill="none">
<polyline points="480.6,2130.2 873.9,1907.55 1266.9,1379.5 1659.9,1647.7" stroke-linejoin="miter"/>
<path d="M431.2 2115.1H530M431.2 2145.3H530M480.6 2115.1V2145.3M824.5 1883.8H923.3M824.5 1931.3H923.3M873.9 1883.8V1931.3M1217.5 1340.1H1316.3M1217.5 1418.9H1316.3M1266.9 1340.1V1418.9M1610.5 1617.4H1709.3M1610.5 1678H1709.3M1659.9 1617.4V1678"/>
</g>
<rect x="196.6" y="1040.9" width="1747.4" height="1155.8" fill="none" stroke="#000" stroke-width="3"/>
<text transform="translate(164.2,2218.1) scale(0.98,1)" text-anchor="end" font-size="50">0.2</text>
<text transform="translate(164.2,1964.7) scale(0.98,1)" text-anchor="end" font-size="50">0.3</text>
<text transform="translate(164.2,1710.6) scale(0.98,1)" text-anchor="end" font-size="50">0.4</text>
<text transform="translate(164.2,1456.6) scale(0.98,1)" text-anchor="end" font-size="50">0.5</text>
<text transform="translate(164.2,1202.7) scale(0.98,1)" text-anchor="end" font-size="50">0.6</text>
<text x="480.6" y="2280" text-anchor="middle" font-size="50">S1</text>
<text x="873.9" y="2280" text-anchor="middle" font-size="50">S2</text>
<text x="1266.9" y="2280" text-anchor="middle" font-size="50">S3</text>
<text x="1659.9" y="2280" text-anchor="middle" font-size="50">S4</text>
<text transform="translate(42.6,1617.5) rotate(-90)" text-anchor="middle" font-size="50.5" style="letter-spacing:-0.9px">NDVI-Mean</text>
<polyline points="252.8,1177.8 287.4,1147.2 322.8,1121.7 359,1125.4" stroke="#e41a1c" stroke-width="3.8" fill="none" stroke-linejoin="miter"/>
<text x="384.5" y="1163.3" font-size="50">Cluster 1</text>
<text x="621.5" y="1163.3" font-size="50">Z3O2</text>
<polyline points="252.8,1263.3 288.2,1227.9 323.3,1201 359,1248.6" stroke="#377eb8" stroke-width="3.8" fill="none" stroke-linejoin="miter"/>
<text x="384.5" y="1246.1" font-size="50">Cluster 2</text>
<text x="621.5" y="1246.1" font-size="50">Z3O2</text>
<polyline points="258.2,1346.8 293.6,1336.9 329,1282.3 364.4,1295" stroke="#4daf4a" stroke-width="3.8" fill="none" stroke-linejoin="miter"/>
<text x="388.8" y="1327.9" font-size="50">Cluster 3</text>
<text x="627.8" y="1327.9" font-size="50">Z3B2</text>
<polyline points="258.2,1433.2 293.6,1422.5 329,1361 364.4,1398.4" stroke="#984ea3" stroke-width="3.8" fill="none" stroke-linejoin="miter"/>
<text x="388.8" y="1410.5" font-size="50">Cluster 4</text>
<text x="627.8" y="1410.5" font-size="50">Z3B2</text>
<polyline points="252.8,1515.9 288.2,1490.4 323.3,1462.1 359,1443.1" stroke="#ff7f00" stroke-width="3.8" fill="none" stroke-linejoin="miter"/>
<text x="384.5" y="1493" font-size="50">Cluster 5</text>
<text x="621.5" y="1493" font-size="50">Z4O3</text>
<polyline points="258.2,1595.7 293.6,1581.6 329,1527.8 364.4,1579" stroke="#fb80bb" stroke-width="3.8" fill="none" stroke-linejoin="miter"/>
<text x="388.8" y="1575.1" font-size="50">Cluster 6</text>
<text x="627.8" y="1575.1" font-size="50">Z3B2</text>
<polyline points="258.2,1677.8 293.6,1658.3 329,1610.7 364.4,1634.2" stroke="#ae4b2c" stroke-width="3.8" fill="none" stroke-linejoin="miter"/>
<text x="388.8" y="1657.9" font-size="50">Cluster 7</text>
<text x="627.8" y="1657.9" font-size="50">Z3B2</text>
</g>
</svg></body></html>
